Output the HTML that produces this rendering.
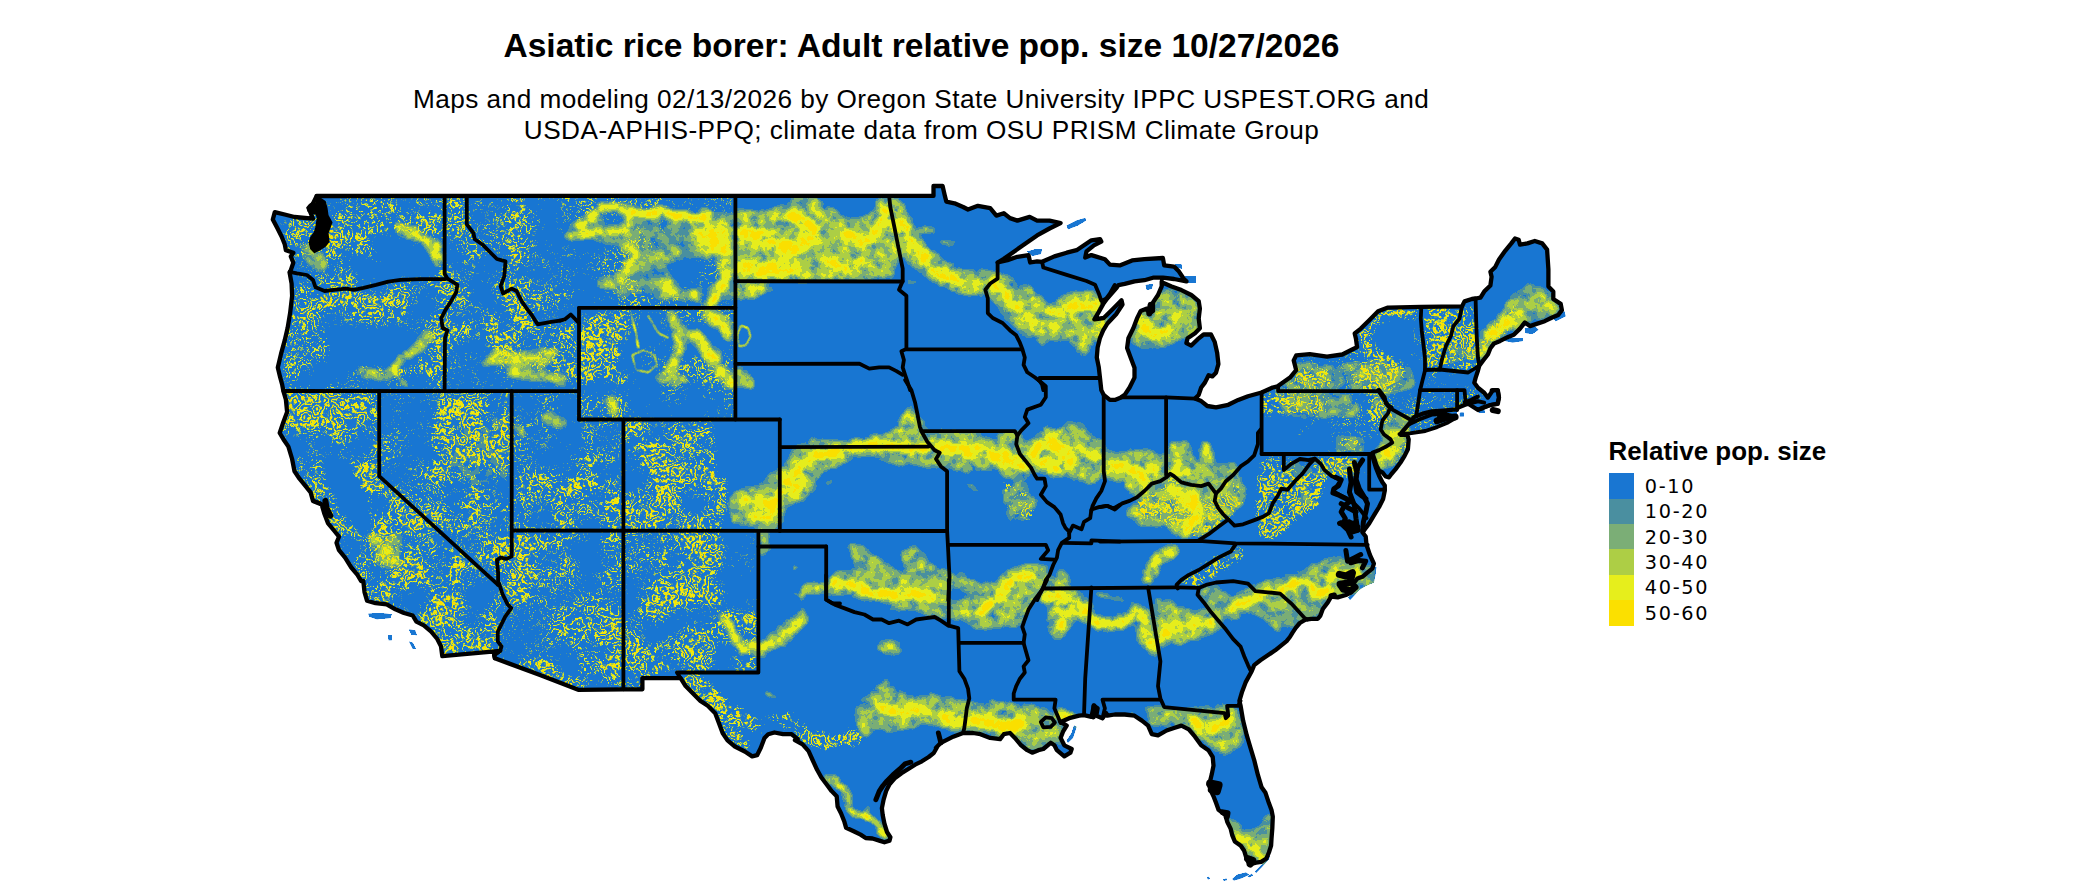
<!DOCTYPE html>
<html lang="en"><head><meta charset="utf-8"><title>Asiatic rice borer: Adult relative pop. size 10/27/2026</title>
<style>html,body{margin:0;padding:0;background:#fff;}body{width:2100px;height:892px;position:relative;overflow:hidden;}</style>
</head><body>
<svg width="2100" height="892" viewBox="0 0 2100 892" style="position:absolute;left:0;top:0">
<defs><clipPath id="land"><path d="M316.7,196.0 L933.5,195.9 L933.5,186.0 L942.6,186.0 L944.6,194.7 L946.3,201.6 L954.5,203.3 L963.1,207.0 L968.0,209.5 L977.9,205.8 L990.2,208.2 L996.4,215.6 L1003.8,213.2 L1010.0,218.1 L1017.4,220.6 L1029.7,216.9 L1037.1,220.6 L1049.5,220.6 L1060.6,223.0 L1049.5,228.5 L1037.1,235.4 L1024.8,244.0 L1012.5,252.7 L1003.8,258.8 L997.6,262.5 L1007.5,260.1 L1017.4,256.8 L1028.5,255.1 L1030.2,262.5 L1037.1,261.3 L1042.1,261.8 L1054.4,256.4 L1066.7,252.7 L1076.6,250.2 L1084.0,245.3 L1091.4,240.3 L1100.0,239.1 L1101.3,241.6 L1093.9,245.3 L1086.5,251.4 L1085.2,257.6 L1091.4,255.1 L1104.9,259.2 L1109.9,264.6 L1119.7,265.4 L1132.1,260.4 L1144.4,259.2 L1162.9,258.0 L1164.2,265.4 L1174.0,266.6 L1179.0,271.6 L1183.9,279.0 L1186.4,281.4 L1174.0,279.0 L1162.9,277.7 L1153.0,277.7 L1144.4,280.2 L1134.5,281.4 L1124.7,283.9 L1118.5,285.1 L1116.1,288.4 L1107.4,298.3 L1103.7,303.2 L1098.8,311.9 L1094.4,319.3 L1103.7,318.0 L1113.1,308.7 L1121.5,300.3 L1122.5,304.5 L1116.1,314.3 L1107.4,323.5 L1103.2,330.4 L1100.0,337.8 L1097.6,347.6 L1096.8,357.5 L1098.8,367.4 L1100.0,378.0 L1101.3,390.1 L1103.7,394.9 L1109.9,399.9 L1114.8,399.9 L1121.0,397.4 L1124.7,394.9 L1129.6,387.5 L1134.5,377.6 L1134.5,367.8 L1130.8,357.9 L1127.1,348.0 L1128.4,338.2 L1133.3,328.3 L1137.0,318.4 L1140.7,311.0 L1146.9,308.6 L1149.3,313.5 L1153.0,311.0 L1153.0,302.4 L1158.0,295.0 L1161.7,286.4 L1161.7,281.4 L1162.9,282.7 L1171.6,286.4 L1181.4,290.1 L1191.3,295.0 L1198.7,301.2 L1199.9,308.6 L1198.7,318.4 L1199.9,328.3 L1195.0,333.2 L1187.6,338.2 L1186.4,343.1 L1191.3,345.6 L1197.5,339.4 L1203.6,334.5 L1211.0,334.5 L1214.7,341.9 L1217.2,353.0 L1218.4,364.1 L1216.0,372.7 L1212.3,376.4 L1208.6,375.2 L1204.9,382.6 L1201.2,387.5 L1198.7,394.9 L1195.0,398.6 L1201.2,401.1 L1207.3,406.0 L1216.0,407.3 L1228.3,404.8 L1238.2,399.9 L1248.0,396.2 L1261.6,392.5 L1272.7,387.5 L1277.6,386.3 L1290.0,377.6 L1296.2,370.2 L1293.7,360.4 L1296.2,355.4 L1309.7,354.2 L1327.0,356.7 L1342.3,354.5 L1352.2,349.5 L1357.1,347.1 L1355.9,338.4 L1354.7,333.5 L1360.8,328.6 L1369.5,319.9 L1378.1,311.3 L1388.0,307.6 L1421.3,306.8 L1462.0,306.4 L1464.5,301.4 L1471.9,299.0 L1475.6,298.5 L1480.5,297.7 L1484.2,291.6 L1490.4,285.4 L1491.6,276.7 L1490.4,271.8 L1495.3,266.9 L1499.0,259.5 L1505.2,250.8 L1511.3,243.4 L1515.0,238.5 L1518.7,239.7 L1520.0,244.7 L1527.4,243.4 L1534.8,241.0 L1542.2,243.4 L1547.1,249.6 L1548.4,269.3 L1548.4,286.6 L1553.3,291.6 L1553.3,299.0 L1560.7,303.9 L1561.9,310.1 L1558.2,315.0 L1552.1,317.5 L1544.7,321.2 L1537.3,323.6 L1529.9,326.1 L1524.9,322.4 L1520.0,328.6 L1513.8,334.7 L1507.6,337.2 L1500.2,340.9 L1494.1,343.4 L1490.4,348.3 L1487.9,354.5 L1483.0,360.6 L1479.3,365.6 L1478.0,370.5 L1475.6,377.9 L1474.3,382.8 L1478.0,387.8 L1484.2,392.7 L1487.9,397.6 L1492.8,390.2 L1497.8,390.2 L1499.0,397.6 L1497.8,403.8 L1490.4,405.0 L1483.0,407.5 L1478.0,410.0 L1468.2,403.8 L1464.5,405.0 L1458.3,407.5 L1456.5,409.4 L1443.3,410.6 L1431.8,411.4 L1421.9,413.9 L1413.7,417.2 L1412.0,420.5 L1407.1,426.2 L1401.3,432.8 L1400.8,434.8 L1407.1,434.5 L1408.7,439.4 L1407.9,449.3 L1404.6,455.9 L1400.5,462.5 L1395.6,469.1 L1391.4,474.0 L1389.0,477.3 L1385.7,476.5 L1382.4,472.4 L1379.1,470.7 L1376.6,465.8 L1375.0,460.8 L1373.3,455.9 L1372.5,453.4 L1373.3,459.2 L1375.8,467.4 L1379.1,475.7 L1382.4,482.3 L1384.8,485.6 L1384.8,490.5 L1383.2,498.7 L1379.1,507.0 L1374.1,515.2 L1369.2,523.4 L1364.3,530.0 L1362.6,532.5 L1365.7,536.5 L1366.5,544.7 L1369.8,554.6 L1373.9,563.7 L1372.3,568.6 L1367.3,572.7 L1362.4,576.8 L1357.4,578.5 L1354.1,582.6 L1352.5,589.2 L1350.8,592.5 L1345.9,595.0 L1337.7,597.4 L1331.1,596.6 L1327.8,602.4 L1322.8,609.0 L1320.4,615.6 L1317.9,618.8 L1311.3,618.8 L1305.5,619.7 L1299.8,623.0 L1295.7,627.9 L1292.4,632.9 L1289.9,637.0 L1286.6,641.1 L1275.2,650.3 L1267.8,655.3 L1260.4,660.2 L1254.2,665.1 L1251.7,671.3 L1245.6,682.4 L1241.9,692.3 L1239.4,700.9 L1240.6,705.8 L1243.1,720.6 L1246.8,735.4 L1250.5,747.8 L1254.2,760.1 L1257.9,774.9 L1261.6,787.3 L1265.5,792.8 L1268.9,803.1 L1271.5,809.9 L1272.8,816.7 L1272.3,828.6 L1271.5,838.9 L1271.1,845.7 L1268.9,852.5 L1266.4,858.5 L1261.2,861.9 L1256.1,862.7 L1249.3,864.4 L1246.8,859.3 L1244.2,850.8 L1240.8,845.7 L1234.8,841.4 L1232.3,835.4 L1230.6,828.6 L1227.2,821.8 L1225.4,815.0 L1218.6,809.9 L1216.1,803.1 L1213.5,796.2 L1211.0,791.1 L1209.3,786.0 L1210.1,780.9 L1211.8,774.1 L1213.5,765.6 L1212.7,757.0 L1208.4,750.2 L1201.2,745.3 L1195.0,736.7 L1188.8,729.3 L1181.4,725.6 L1174.0,728.0 L1166.6,730.5 L1158.0,735.4 L1151.8,734.2 L1148.1,725.6 L1141.9,720.6 L1134.5,715.7 L1124.7,714.5 L1114.8,714.5 L1107.4,715.7 L1106.2,713.2 L1102.5,718.2 L1096.3,715.7 L1097.6,708.3 L1093.9,705.8 L1091.4,716.9 L1084.0,715.2 L1079.1,715.7 L1069.2,718.2 L1060.6,721.9 L1066.7,725.6 L1063.0,731.7 L1060.6,737.9 L1064.3,745.3 L1071.7,749.0 L1070.4,752.7 L1064.3,756.4 L1056.9,750.2 L1054.4,745.3 L1050.7,742.8 L1043.3,749.0 L1038.4,750.2 L1032.2,752.7 L1027.3,750.2 L1021.1,745.3 L1014.9,737.9 L1010.0,733.0 L1003.8,734.2 L1000.1,739.1 L990.2,737.9 L980.4,734.2 L973.0,733.0 L963.1,733.0 L953.2,736.7 L945.8,740.4 L940.9,742.8 L936.0,747.8 L937.3,746.8 L933.9,752.8 L928.7,757.0 L921.9,761.3 L915.1,764.7 L908.3,769.0 L901.5,773.2 L894.7,778.4 L889.5,784.3 L886.1,791.1 L883.6,799.7 L881.9,808.2 L882.7,815.0 L884.4,823.5 L887.0,832.0 L890.4,837.2 L889.5,840.6 L884.4,842.3 L879.3,840.6 L872.5,838.5 L865.7,838.0 L860.6,834.6 L853.7,831.2 L846.1,827.8 L844.4,821.8 L841.0,813.3 L837.6,806.5 L836.7,796.2 L831.6,791.1 L826.5,784.3 L821.4,777.5 L817.1,769.8 L812.8,760.5 L808.6,751.1 L802.6,744.3 L794.9,740.0 L797.8,739.1 L791.7,734.2 L783.0,734.2 L774.4,732.5 L768.2,734.2 L764.5,737.9 L760.8,747.8 L757.1,755.2 L752.2,756.4 L744.8,751.5 L734.9,746.5 L727.5,740.4 L722.6,733.0 L718.9,723.1 L715.2,713.2 L707.8,705.8 L700.4,700.9 L693.0,693.5 L685.6,686.1 L680.6,678.2 L642.4,678.2 L642.4,689.3 L623.4,689.3 L578.2,689.8 L540.0,675.0 L494.8,658.2 L494.1,655.0 L500.2,650.8 L442.3,656.2 L441.0,646.4 L437.3,639.0 L431.2,631.6 L423.8,625.4 L416.4,621.7 L412.7,615.5 L404.0,613.0 L395.4,609.3 L386.7,604.4 L375.6,603.2 L367.0,600.7 L364.5,592.1 L363.3,581.0 L361.2,581.1 L357.5,574.9 L351.3,567.5 L345.1,557.6 L339.0,550.2 L336.5,542.8 L339.0,536.7 L334.0,530.5 L327.9,523.1 L324.2,513.2 L321.7,504.6 L313.0,500.9 L310.6,492.3 L305.6,486.1 L299.5,478.7 L294.5,471.3 L292.1,459.0 L288.4,446.6 L283.4,439.2 L279.7,433.0 L283.4,421.9 L287.1,412.1 L285.9,399.7 L283.4,391.1 L282.2,384.8 L280.2,377.4 L277.8,367.5 L281.0,353.9 L284.7,340.4 L287.6,328.0 L290.1,313.2 L292.1,296.0 L291.6,283.6 L289.6,272.5 L290.8,270.1 L293.3,262.7 L290.8,256.5 L293.3,252.8 L285.9,250.3 L284.7,244.2 L281.7,236.7 L277.3,228.1 L272.8,219.5 L274.8,212.1 L284.7,214.5 L294.5,217.0 L313.0,218.7 L309.3,209.6 L313.0,203.4Z"/><path d="M1412.8,416.9 L1430.8,411.0 L1457.5,409.0 L1456.3,417.7 L1448.1,422.8 L1437.1,427.1 L1425.3,431.0 L1409.6,433.8 L1399.4,434.2 L1405.7,424.0Z"/>
<path d="M1066.7,225.5 L1076.6,220.6 L1085.2,218.1 L1086.0,220.6 L1077.8,225.5 L1068.0,229.2Z"/>
<path d="M1027.3,251.4 L1034.7,249.4 L1042.1,249.0 L1040.8,253.9 L1032.2,255.9Z"/>
<path d="M368.2,613.8 L379.3,613.0 L391.7,614.3 L390.4,618.0 L376.9,619.2 L369.5,616.7Z"/>
<path d="M388.0,635.3 L391.7,635.3 L391.7,640.2 L388.7,640.2Z"/>
<path d="M409.0,629.6 L415.1,630.3 L416.8,635.3 L411.4,634.5Z"/>
<path d="M409.0,641.4 L412.7,642.7 L415.9,648.8 L412.7,648.8Z"/>
<path d="M1266.4,859.3 L1269.8,855.9 L1268.9,859.3 L1261.2,867.8 L1256.1,872.9 L1255.3,871.2 L1261.2,865.3Z"/>
<path d="M1232.3,878.9 L1237.4,874.7 L1245.9,872.6 L1249.3,874.7 L1240.8,878.4 L1234.0,880.6Z"/>
<path d="M1247.6,876.4 L1251.9,873.8 L1252.7,875.5 L1249.3,877.2Z"/>
<path d="M1223.4,879.4 L1226.3,878.4 L1227.2,880.1 L1223.7,880.8Z"/>
<path d="M1207.0,877.7 L1208.7,876.7 L1209.8,878.4 L1208.1,879.4Z"/>
<path d="M1372.3,567.8 L1376.4,567.0 L1375.2,576.0 L1373.9,582.6 L1365.7,585.9 L1359.1,590.0 L1352.5,597.4 L1350.0,599.9 L1348.4,597.4 L1352.5,592.5 L1355.0,582.6 L1362.4,577.7 L1369.0,572.7Z"/>
<path d="M1363.2,520.0 L1369.8,520.0 L1370.6,523.3 L1364.8,528.2Z"/>
<path d="M1175.3,264.2 L1181.4,264.2 L1181.9,268.6 L1176.5,268.1Z"/>
<path d="M1185.1,276.0 L1195.7,276.0 L1195.7,282.9 L1186.4,282.4Z"/>
<path d="M1145.6,285.1 L1153.0,283.9 L1151.8,288.8 L1146.9,290.1Z"/>
<path d="M1074.1,725.6 L1076.6,726.8 L1072.9,737.9 L1068.0,742.8 L1066.7,740.4 L1071.7,733.0Z"/>
<path d="M1524.9,328.6 L1534.8,326.6 L1538.5,329.8 L1532.3,334.0 L1525.4,333.0Z"/>
<path d="M1502.7,340.4 L1512.6,337.9 L1522.5,337.9 L1522.9,340.9 L1512.6,342.4Z"/>
<path d="M1552.1,316.7 L1564.4,311.3 L1565.6,316.2 L1555.8,321.2Z"/>
<path d="M1460.3,412.5 L1463.7,412.5 L1463.7,416.4 L1460.3,416.4Z"/>
<path d="M1478.0,410.0 L1484.2,409.5 L1484.9,412.5 L1479.0,412.9Z"/>
<path d="M1459.8,413.1 L1463.9,413.1 L1463.9,416.4 L1459.8,416.4Z"/>
</clipPath></defs>
<g fill="#1976D2" stroke="none" shape-rendering="crispEdges">
<path d="M316.7,196.0 L933.5,195.9 L933.5,186.0 L942.6,186.0 L944.6,194.7 L946.3,201.6 L954.5,203.3 L963.1,207.0 L968.0,209.5 L977.9,205.8 L990.2,208.2 L996.4,215.6 L1003.8,213.2 L1010.0,218.1 L1017.4,220.6 L1029.7,216.9 L1037.1,220.6 L1049.5,220.6 L1060.6,223.0 L1049.5,228.5 L1037.1,235.4 L1024.8,244.0 L1012.5,252.7 L1003.8,258.8 L997.6,262.5 L1007.5,260.1 L1017.4,256.8 L1028.5,255.1 L1030.2,262.5 L1037.1,261.3 L1042.1,261.8 L1054.4,256.4 L1066.7,252.7 L1076.6,250.2 L1084.0,245.3 L1091.4,240.3 L1100.0,239.1 L1101.3,241.6 L1093.9,245.3 L1086.5,251.4 L1085.2,257.6 L1091.4,255.1 L1104.9,259.2 L1109.9,264.6 L1119.7,265.4 L1132.1,260.4 L1144.4,259.2 L1162.9,258.0 L1164.2,265.4 L1174.0,266.6 L1179.0,271.6 L1183.9,279.0 L1186.4,281.4 L1174.0,279.0 L1162.9,277.7 L1153.0,277.7 L1144.4,280.2 L1134.5,281.4 L1124.7,283.9 L1118.5,285.1 L1116.1,288.4 L1107.4,298.3 L1103.7,303.2 L1098.8,311.9 L1094.4,319.3 L1103.7,318.0 L1113.1,308.7 L1121.5,300.3 L1122.5,304.5 L1116.1,314.3 L1107.4,323.5 L1103.2,330.4 L1100.0,337.8 L1097.6,347.6 L1096.8,357.5 L1098.8,367.4 L1100.0,378.0 L1101.3,390.1 L1103.7,394.9 L1109.9,399.9 L1114.8,399.9 L1121.0,397.4 L1124.7,394.9 L1129.6,387.5 L1134.5,377.6 L1134.5,367.8 L1130.8,357.9 L1127.1,348.0 L1128.4,338.2 L1133.3,328.3 L1137.0,318.4 L1140.7,311.0 L1146.9,308.6 L1149.3,313.5 L1153.0,311.0 L1153.0,302.4 L1158.0,295.0 L1161.7,286.4 L1161.7,281.4 L1162.9,282.7 L1171.6,286.4 L1181.4,290.1 L1191.3,295.0 L1198.7,301.2 L1199.9,308.6 L1198.7,318.4 L1199.9,328.3 L1195.0,333.2 L1187.6,338.2 L1186.4,343.1 L1191.3,345.6 L1197.5,339.4 L1203.6,334.5 L1211.0,334.5 L1214.7,341.9 L1217.2,353.0 L1218.4,364.1 L1216.0,372.7 L1212.3,376.4 L1208.6,375.2 L1204.9,382.6 L1201.2,387.5 L1198.7,394.9 L1195.0,398.6 L1201.2,401.1 L1207.3,406.0 L1216.0,407.3 L1228.3,404.8 L1238.2,399.9 L1248.0,396.2 L1261.6,392.5 L1272.7,387.5 L1277.6,386.3 L1290.0,377.6 L1296.2,370.2 L1293.7,360.4 L1296.2,355.4 L1309.7,354.2 L1327.0,356.7 L1342.3,354.5 L1352.2,349.5 L1357.1,347.1 L1355.9,338.4 L1354.7,333.5 L1360.8,328.6 L1369.5,319.9 L1378.1,311.3 L1388.0,307.6 L1421.3,306.8 L1462.0,306.4 L1464.5,301.4 L1471.9,299.0 L1475.6,298.5 L1480.5,297.7 L1484.2,291.6 L1490.4,285.4 L1491.6,276.7 L1490.4,271.8 L1495.3,266.9 L1499.0,259.5 L1505.2,250.8 L1511.3,243.4 L1515.0,238.5 L1518.7,239.7 L1520.0,244.7 L1527.4,243.4 L1534.8,241.0 L1542.2,243.4 L1547.1,249.6 L1548.4,269.3 L1548.4,286.6 L1553.3,291.6 L1553.3,299.0 L1560.7,303.9 L1561.9,310.1 L1558.2,315.0 L1552.1,317.5 L1544.7,321.2 L1537.3,323.6 L1529.9,326.1 L1524.9,322.4 L1520.0,328.6 L1513.8,334.7 L1507.6,337.2 L1500.2,340.9 L1494.1,343.4 L1490.4,348.3 L1487.9,354.5 L1483.0,360.6 L1479.3,365.6 L1478.0,370.5 L1475.6,377.9 L1474.3,382.8 L1478.0,387.8 L1484.2,392.7 L1487.9,397.6 L1492.8,390.2 L1497.8,390.2 L1499.0,397.6 L1497.8,403.8 L1490.4,405.0 L1483.0,407.5 L1478.0,410.0 L1468.2,403.8 L1464.5,405.0 L1458.3,407.5 L1456.5,409.4 L1443.3,410.6 L1431.8,411.4 L1421.9,413.9 L1413.7,417.2 L1412.0,420.5 L1407.1,426.2 L1401.3,432.8 L1400.8,434.8 L1407.1,434.5 L1408.7,439.4 L1407.9,449.3 L1404.6,455.9 L1400.5,462.5 L1395.6,469.1 L1391.4,474.0 L1389.0,477.3 L1385.7,476.5 L1382.4,472.4 L1379.1,470.7 L1376.6,465.8 L1375.0,460.8 L1373.3,455.9 L1372.5,453.4 L1373.3,459.2 L1375.8,467.4 L1379.1,475.7 L1382.4,482.3 L1384.8,485.6 L1384.8,490.5 L1383.2,498.7 L1379.1,507.0 L1374.1,515.2 L1369.2,523.4 L1364.3,530.0 L1362.6,532.5 L1365.7,536.5 L1366.5,544.7 L1369.8,554.6 L1373.9,563.7 L1372.3,568.6 L1367.3,572.7 L1362.4,576.8 L1357.4,578.5 L1354.1,582.6 L1352.5,589.2 L1350.8,592.5 L1345.9,595.0 L1337.7,597.4 L1331.1,596.6 L1327.8,602.4 L1322.8,609.0 L1320.4,615.6 L1317.9,618.8 L1311.3,618.8 L1305.5,619.7 L1299.8,623.0 L1295.7,627.9 L1292.4,632.9 L1289.9,637.0 L1286.6,641.1 L1275.2,650.3 L1267.8,655.3 L1260.4,660.2 L1254.2,665.1 L1251.7,671.3 L1245.6,682.4 L1241.9,692.3 L1239.4,700.9 L1240.6,705.8 L1243.1,720.6 L1246.8,735.4 L1250.5,747.8 L1254.2,760.1 L1257.9,774.9 L1261.6,787.3 L1265.5,792.8 L1268.9,803.1 L1271.5,809.9 L1272.8,816.7 L1272.3,828.6 L1271.5,838.9 L1271.1,845.7 L1268.9,852.5 L1266.4,858.5 L1261.2,861.9 L1256.1,862.7 L1249.3,864.4 L1246.8,859.3 L1244.2,850.8 L1240.8,845.7 L1234.8,841.4 L1232.3,835.4 L1230.6,828.6 L1227.2,821.8 L1225.4,815.0 L1218.6,809.9 L1216.1,803.1 L1213.5,796.2 L1211.0,791.1 L1209.3,786.0 L1210.1,780.9 L1211.8,774.1 L1213.5,765.6 L1212.7,757.0 L1208.4,750.2 L1201.2,745.3 L1195.0,736.7 L1188.8,729.3 L1181.4,725.6 L1174.0,728.0 L1166.6,730.5 L1158.0,735.4 L1151.8,734.2 L1148.1,725.6 L1141.9,720.6 L1134.5,715.7 L1124.7,714.5 L1114.8,714.5 L1107.4,715.7 L1106.2,713.2 L1102.5,718.2 L1096.3,715.7 L1097.6,708.3 L1093.9,705.8 L1091.4,716.9 L1084.0,715.2 L1079.1,715.7 L1069.2,718.2 L1060.6,721.9 L1066.7,725.6 L1063.0,731.7 L1060.6,737.9 L1064.3,745.3 L1071.7,749.0 L1070.4,752.7 L1064.3,756.4 L1056.9,750.2 L1054.4,745.3 L1050.7,742.8 L1043.3,749.0 L1038.4,750.2 L1032.2,752.7 L1027.3,750.2 L1021.1,745.3 L1014.9,737.9 L1010.0,733.0 L1003.8,734.2 L1000.1,739.1 L990.2,737.9 L980.4,734.2 L973.0,733.0 L963.1,733.0 L953.2,736.7 L945.8,740.4 L940.9,742.8 L936.0,747.8 L937.3,746.8 L933.9,752.8 L928.7,757.0 L921.9,761.3 L915.1,764.7 L908.3,769.0 L901.5,773.2 L894.7,778.4 L889.5,784.3 L886.1,791.1 L883.6,799.7 L881.9,808.2 L882.7,815.0 L884.4,823.5 L887.0,832.0 L890.4,837.2 L889.5,840.6 L884.4,842.3 L879.3,840.6 L872.5,838.5 L865.7,838.0 L860.6,834.6 L853.7,831.2 L846.1,827.8 L844.4,821.8 L841.0,813.3 L837.6,806.5 L836.7,796.2 L831.6,791.1 L826.5,784.3 L821.4,777.5 L817.1,769.8 L812.8,760.5 L808.6,751.1 L802.6,744.3 L794.9,740.0 L797.8,739.1 L791.7,734.2 L783.0,734.2 L774.4,732.5 L768.2,734.2 L764.5,737.9 L760.8,747.8 L757.1,755.2 L752.2,756.4 L744.8,751.5 L734.9,746.5 L727.5,740.4 L722.6,733.0 L718.9,723.1 L715.2,713.2 L707.8,705.8 L700.4,700.9 L693.0,693.5 L685.6,686.1 L680.6,678.2 L642.4,678.2 L642.4,689.3 L623.4,689.3 L578.2,689.8 L540.0,675.0 L494.8,658.2 L494.1,655.0 L500.2,650.8 L442.3,656.2 L441.0,646.4 L437.3,639.0 L431.2,631.6 L423.8,625.4 L416.4,621.7 L412.7,615.5 L404.0,613.0 L395.4,609.3 L386.7,604.4 L375.6,603.2 L367.0,600.7 L364.5,592.1 L363.3,581.0 L361.2,581.1 L357.5,574.9 L351.3,567.5 L345.1,557.6 L339.0,550.2 L336.5,542.8 L339.0,536.7 L334.0,530.5 L327.9,523.1 L324.2,513.2 L321.7,504.6 L313.0,500.9 L310.6,492.3 L305.6,486.1 L299.5,478.7 L294.5,471.3 L292.1,459.0 L288.4,446.6 L283.4,439.2 L279.7,433.0 L283.4,421.9 L287.1,412.1 L285.9,399.7 L283.4,391.1 L282.2,384.8 L280.2,377.4 L277.8,367.5 L281.0,353.9 L284.7,340.4 L287.6,328.0 L290.1,313.2 L292.1,296.0 L291.6,283.6 L289.6,272.5 L290.8,270.1 L293.3,262.7 L290.8,256.5 L293.3,252.8 L285.9,250.3 L284.7,244.2 L281.7,236.7 L277.3,228.1 L272.8,219.5 L274.8,212.1 L284.7,214.5 L294.5,217.0 L313.0,218.7 L309.3,209.6 L313.0,203.4Z"/>
<path d="M1412.8,416.9 L1430.8,411.0 L1457.5,409.0 L1456.3,417.7 L1448.1,422.8 L1437.1,427.1 L1425.3,431.0 L1409.6,433.8 L1399.4,434.2 L1405.7,424.0Z"/>
<path d="M1066.7,225.5 L1076.6,220.6 L1085.2,218.1 L1086.0,220.6 L1077.8,225.5 L1068.0,229.2Z"/>
<path d="M1027.3,251.4 L1034.7,249.4 L1042.1,249.0 L1040.8,253.9 L1032.2,255.9Z"/>
<path d="M368.2,613.8 L379.3,613.0 L391.7,614.3 L390.4,618.0 L376.9,619.2 L369.5,616.7Z"/>
<path d="M388.0,635.3 L391.7,635.3 L391.7,640.2 L388.7,640.2Z"/>
<path d="M409.0,629.6 L415.1,630.3 L416.8,635.3 L411.4,634.5Z"/>
<path d="M409.0,641.4 L412.7,642.7 L415.9,648.8 L412.7,648.8Z"/>
<path d="M1266.4,859.3 L1269.8,855.9 L1268.9,859.3 L1261.2,867.8 L1256.1,872.9 L1255.3,871.2 L1261.2,865.3Z"/>
<path d="M1232.3,878.9 L1237.4,874.7 L1245.9,872.6 L1249.3,874.7 L1240.8,878.4 L1234.0,880.6Z"/>
<path d="M1247.6,876.4 L1251.9,873.8 L1252.7,875.5 L1249.3,877.2Z"/>
<path d="M1223.4,879.4 L1226.3,878.4 L1227.2,880.1 L1223.7,880.8Z"/>
<path d="M1207.0,877.7 L1208.7,876.7 L1209.8,878.4 L1208.1,879.4Z"/>
<path d="M1372.3,567.8 L1376.4,567.0 L1375.2,576.0 L1373.9,582.6 L1365.7,585.9 L1359.1,590.0 L1352.5,597.4 L1350.0,599.9 L1348.4,597.4 L1352.5,592.5 L1355.0,582.6 L1362.4,577.7 L1369.0,572.7Z"/>
<path d="M1363.2,520.0 L1369.8,520.0 L1370.6,523.3 L1364.8,528.2Z"/>
<path d="M1175.3,264.2 L1181.4,264.2 L1181.9,268.6 L1176.5,268.1Z"/>
<path d="M1185.1,276.0 L1195.7,276.0 L1195.7,282.9 L1186.4,282.4Z"/>
<path d="M1145.6,285.1 L1153.0,283.9 L1151.8,288.8 L1146.9,290.1Z"/>
<path d="M1074.1,725.6 L1076.6,726.8 L1072.9,737.9 L1068.0,742.8 L1066.7,740.4 L1071.7,733.0Z"/>
<path d="M1524.9,328.6 L1534.8,326.6 L1538.5,329.8 L1532.3,334.0 L1525.4,333.0Z"/>
<path d="M1502.7,340.4 L1512.6,337.9 L1522.5,337.9 L1522.9,340.9 L1512.6,342.4Z"/>
<path d="M1552.1,316.7 L1564.4,311.3 L1565.6,316.2 L1555.8,321.2Z"/>
<path d="M1460.3,412.5 L1463.7,412.5 L1463.7,416.4 L1460.3,416.4Z"/>
<path d="M1478.0,410.0 L1484.2,409.5 L1484.9,412.5 L1479.0,412.9Z"/>
<path d="M1459.8,413.1 L1463.9,413.1 L1463.9,416.4 L1459.8,416.4Z"/>
</g>
<defs><filter id="pal" x="0" y="0" width="2100" height="892" filterUnits="userSpaceOnUse" color-interpolation-filters="sRGB">
<feTurbulence type="fractalNoise" baseFrequency="0.035" numOctaves="4" seed="41" result="TD"/>
<feDisplacementMap in="SourceGraphic" in2="TD" scale="10" xChannelSelector="R" yChannelSelector="G" result="SD"/>
<feGaussianBlur in="SourceGraphic" stdDeviation="2.0" result="S"/>
<feTurbulence type="fractalNoise" baseFrequency="0.1" numOctaves="5" seed="7" result="T1"/>
<feColorMatrix in="T1" type="matrix" values="1 0 0 0 0  1 0 0 0 0  1 0 0 0 0  0 0 0 0 1" result="N1"/>
<feGaussianBlur in="SD" stdDeviation="2.6" result="S2"/>
<feColorMatrix in="S2" type="matrix" values="1 0 0 0 0  1 0 0 0 0  1 0 0 0 0  0 0 0 0 1" result="SR"/>
<feComposite in="SR" in2="N1" operator="arithmetic" k1="1.5" k2="0.25" k3="0" k4="0" result="V"/>
<feTurbulence type="fractalNoise" baseFrequency="0.058" numOctaves="5" seed="23" result="T2"/>
<feColorMatrix in="T2" type="matrix" values="1 0 0 0 0  1 0 0 0 0  1 0 0 0 0  0 0 0 0 1" result="N2"/>
<feComponentTransfer in="N2" result="A">
<feFuncR type="table" tableValues="0 1 0 1 0 1 0 1 0 1 0 1 0"/><feFuncG type="table" tableValues="0 1 0 1 0 1 0 1 0 1 0 1 0"/><feFuncB type="table" tableValues="0 1 0 1 0 1 0 1 0 1 0 1 0"/>
</feComponentTransfer>
<feTurbulence type="fractalNoise" baseFrequency="0.028" numOctaves="3" seed="5" result="T3"/>
<feColorMatrix in="T3" type="matrix" values="1 0 0 0 0  1 0 0 0 0  1 0 0 0 0  0 0 0 0 1" result="N3"/>
<feColorMatrix in="S" type="matrix" values="0 1 0 0 0  0 1 0 0 0  0 1 0 0 0  0 0 0 0 1" result="SG"/>
<feComposite in="SG" in2="N3" operator="arithmetic" k1="2.9" k2="-0.52" k3="0" k4="0" result="SGm"/>
<feComposite in="SGm" in2="A" operator="arithmetic" k1="0" k2="1" k3="1.6" k4="-1.6" result="F"/>
<feComponentTransfer in="SGm" result="SGh"><feFuncR type="linear" slope="0.5"/><feFuncG type="linear" slope="0.5"/><feFuncB type="linear" slope="0.5"/></feComponentTransfer>
<feComposite in="SGh" in2="A" operator="arithmetic" k1="0" k2="1" k3="0.45" k4="-0.45" result="F2"/>
<feBlend in="F" in2="F2" mode="lighten" result="F3"/>
<feBlend in="V" in2="F3" mode="lighten" result="W0"/>
<feGaussianBlur in="SourceGraphic" stdDeviation="0.9" result="S4"/>
<feColorMatrix in="S4" type="matrix" values="0 0 1 0 0  0 0 1 0 0  0 0 1 0 0  0 0 0 0 1" result="SB"/>
<feComposite in="SB" in2="N1" operator="arithmetic" k1="1.2" k2="0.4" k3="0" k4="0" result="VB"/>
<feBlend in="W0" in2="VB" mode="lighten" result="W"/>
<feComponentTransfer in="W">
<feFuncR type="discrete" tableValues="0.098 0.098 0.098 0.098 0.098 0.098 0.098 0.098 0.098 0.098 0.098 0.098 0.098 0.098 0.098 0.098 0.098 0.098 0.098 0.098 0.290 0.290 0.290 0.290 0.290 0.290 0.290 0.290 0.290 0.482 0.482 0.482 0.482 0.482 0.482 0.482 0.482 0.482 0.482 0.678 0.678 0.678 0.678 0.678 0.678 0.678 0.678 0.678 0.678 0.678 0.902 0.902 0.902 0.902 0.902 0.902 0.902 0.902 0.902 0.902 0.902 0.902 0.902 0.902 0.902 0.902 0.902 0.902 0.902 0.902 0.902 0.902 0.902 0.984 0.984 0.984 0.984 0.984 0.984 0.984 0.984 0.984 0.984 0.984 0.984 0.984 0.984 0.984 0.984 0.984 0.984 0.984 0.984 0.984 0.984 0.984 0.984 0.984 0.984 0.984"/>
<feFuncG type="discrete" tableValues="0.463 0.463 0.463 0.463 0.463 0.463 0.463 0.463 0.463 0.463 0.463 0.463 0.463 0.463 0.463 0.463 0.463 0.463 0.463 0.463 0.561 0.561 0.561 0.561 0.561 0.561 0.561 0.561 0.561 0.682 0.682 0.682 0.682 0.682 0.682 0.682 0.682 0.682 0.682 0.808 0.808 0.808 0.808 0.808 0.808 0.808 0.808 0.808 0.808 0.808 0.933 0.933 0.933 0.933 0.933 0.933 0.933 0.933 0.933 0.933 0.933 0.933 0.933 0.933 0.933 0.933 0.933 0.933 0.933 0.933 0.933 0.933 0.933 0.878 0.878 0.878 0.878 0.878 0.878 0.878 0.878 0.878 0.878 0.878 0.878 0.878 0.878 0.878 0.878 0.878 0.878 0.878 0.878 0.878 0.878 0.878 0.878 0.878 0.878 0.878"/>
<feFuncB type="discrete" tableValues="0.824 0.824 0.824 0.824 0.824 0.824 0.824 0.824 0.824 0.824 0.824 0.824 0.824 0.824 0.824 0.824 0.824 0.824 0.824 0.824 0.627 0.627 0.627 0.627 0.627 0.627 0.627 0.627 0.627 0.463 0.463 0.463 0.463 0.463 0.463 0.463 0.463 0.463 0.463 0.271 0.271 0.271 0.271 0.271 0.271 0.271 0.271 0.271 0.271 0.271 0.110 0.110 0.110 0.110 0.110 0.110 0.110 0.110 0.110 0.110 0.110 0.110 0.110 0.110 0.110 0.110 0.110 0.110 0.110 0.110 0.110 0.110 0.110 0.000 0.000 0.000 0.000 0.000 0.000 0.000 0.000 0.000 0.000 0.000 0.000 0.000 0.000 0.000 0.000 0.000 0.000 0.000 0.000 0.000 0.000 0.000 0.000 0.000 0.000 0.000"/>
</feComponentTransfer>
</filter><style>.b{mix-blend-mode:lighten;stroke-linecap:round;stroke-linejoin:round}</style></defs>
<g clip-path="url(#land)"><g filter="url(#pal)"><rect x="0" y="0" width="2100" height="892" fill="#000"/>
<path d="M270.0,193.3 L446.5,193.3 L446.5,279.9 L403.2,278.3 L369.9,281.6 L326.6,291.6 L290.0,273.3 Z" fill="rgb(0,173,0)"/>
<path d="M369.9,235.0 L403.2,230.0 L433.2,246.6 L439.9,276.6 L403.2,277.3 L376.6,259.9 Z" fill="rgb(0,38,0)"/>
<path d="M280.0,273.3 L326.6,291.6 L369.9,281.6 L403.2,278.3 L456.5,279.9 L446.5,393.2 L280.0,393.2 Z" fill="rgb(0,153,0)"/>
<path d="M329.9,326.5 L369.9,329.9 L406.5,326.5 L416.5,353.2 L406.5,366.5 L359.9,366.5 L339.9,379.8 L326.6,366.5 Z" fill="rgb(0,38,0)"/>
<path d="M359.9,376.5 L433.2,376.5 L439.9,393.2 L359.9,393.2 Z" fill="rgb(0,76,0)"/>
<path d="M444.8,193.3 L466.5,193.3 L473.2,233.3 L506.5,263.3 L513.1,289.9 L536.4,323.2 L576.4,319.9 L576.4,393.2 L444.8,393.2 L441.5,319.9 L456.5,283.2 L444.8,276.6 Z" fill="rgb(0,178,0)"/>
<path d="M446.5,346.5 L493.1,366.5 L513.1,366.5 L576.4,379.8 L576.4,393.2 L446.5,393.2 Z" fill="rgb(0,89,0)"/>
<path d="M466.5,193.3 L660.0,193.3 L660.0,309.9 L579.7,309.9 L576.4,319.9 L536.4,323.2 L513.1,289.9 L506.5,263.3 L473.2,233.3 Z" fill="rgb(0,127,0)"/>
<path d="M466.5,193.3 L493.1,193.3 L499.8,220.0 L476.5,230.0 Z" fill="rgb(0,178,0)"/>
<path d="M546.4,236.6 L579.7,230.0 L623.0,256.6 L609.7,289.9 L559.8,289.9 L546.4,263.3 Z" fill="rgb(0,63,0)"/>
<path d="M579.7,308.2 L660.0,308.2 L660.0,419.8 L579.7,419.8 Z" fill="rgb(0,89,0)"/>
<path d="M581.4,309.9 L623.0,309.9 L626.4,339.9 L613.0,366.5 L589.7,386.5 L581.4,366.5 Z" fill="rgb(0,255,0)"/>
<path d="M593.1,379.8 L660.0,366.5 L660.0,418.1 L581.4,418.1 L581.4,386.5 Z" fill="rgb(0,51,0)"/>
<path d="M280.0,393.2 L378.2,393.2 L378.2,477.1 L293.3,477.1 Z" fill="rgb(0,204,0)"/>
<path d="M378.2,393.2 L511.5,393.2 L511.5,477.1 L378.2,477.1 Z" fill="rgb(0,140,0)"/>
<path d="M433.2,413.1 L511.5,399.8 L511.5,477.1 L416.5,477.1 Z" fill="rgb(0,216,0)"/>
<path d="M511.5,393.2 L626.4,393.2 L626.4,477.1 L511.5,477.1 Z" fill="rgb(0,127,0)"/>
<path d="M516.5,396.5 L579.7,396.5 L579.7,433.1 L543.1,446.4 L516.5,433.1 Z" fill="rgb(0,51,0)"/>
<path d="M624.7,419.8 L660.0,419.8 L660.0,477.1 L624.7,477.1 Z" fill="rgb(0,204,0)"/>
<path d="M660.0,193.3 L735.9,193.3 L735.9,308.2 L660.0,308.2 Z" fill="rgb(0,89,0)"/>
<path d="M660.0,308.2 L735.9,308.2 L735.9,418.1 L660.0,418.1 Z" fill="rgb(0,127,0)"/>
<path d="M660.0,418.1 L713.3,418.1 L716.6,477.1 L660.0,477.1 Z" fill="rgb(0,216,0)"/>
<path d="M713.3,418.1 L779.9,418.1 L779.9,477.1 L716.6,477.1 Z" fill="rgb(0,30,0)"/>
<path d="M1276.5,353.2 L1296.5,353.2 L1353.1,346.5 L1386.4,306.6 L1460.0,306.6 L1460.0,477.1 L1259.8,477.1 L1259.8,393.2 L1276.5,386.5 Z" fill="rgb(0,114,0)"/>
<path d="M1289.8,369.8 L1313.1,364.8 L1336.4,369.8 L1339.8,383.8 L1313.1,388.5 L1286.5,386.5 Z" fill="rgb(0,306,0)"/>
<path d="M1346.4,366.5 L1376.4,361.5 L1406.4,369.8 L1409.7,386.5 L1379.7,393.2 L1353.1,386.5 Z" fill="rgb(0,306,0)"/>
<path d="M1369.7,336.5 L1379.7,319.9 L1396.4,313.2 L1409.7,319.9 L1413.0,339.9 L1406.4,356.5 L1393.1,359.9 L1379.7,353.2 L1369.7,336.5" fill="none" stroke="rgb(0,331,0)" stroke-width="7.3" stroke-linecap="round" stroke-linejoin="round"/>
<path d="M1408.0,319.9 L1410.4,346.5 L1407.0,366.5" fill="none" stroke="rgb(0,306,0)" stroke-width="6.0" stroke-linecap="round" stroke-linejoin="round"/>
<path d="M1359.8,326.5 L1369.7,336.5 L1359.8,353.2" fill="none" stroke="rgb(0,280,0)" stroke-width="5.3" stroke-linecap="round" stroke-linejoin="round"/>
<path d="M1379.7,326.5 L1399.7,323.2 L1404.7,343.2 L1389.7,353.2 L1378.1,343.2 Z" fill="rgb(0,12,0)"/>
<path d="M1276.5,394.8 L1313.1,393.2 L1346.4,396.5 L1359.8,406.5 L1353.1,413.8 L1313.1,413.8 L1286.5,410.5 Z" fill="rgb(0,306,0)"/>
<path d="M1369.7,396.5 L1393.1,399.8 L1393.1,419.8 L1373.1,419.8 Z" fill="rgb(0,280,0)"/>
<path d="M1339.8,439.1 L1359.8,440.4 L1359.8,450.4 L1339.8,449.1 Z" fill="rgb(0,306,0)"/>
<path d="M1293.1,446.4 L1303.1,429.8 L1316.5,418.1" fill="none" stroke="rgb(0,306,0)" stroke-width="3.3" stroke-linecap="round" stroke-linejoin="round"/>
<path d="M1289.8,449.8 L1299.8,446.4" fill="none" stroke="rgb(0,306,0)" stroke-width="4.7" stroke-linecap="round" stroke-linejoin="round"/>
<path d="M1263.2,414.8 L1366.4,414.8 L1379.7,436.5 L1373.1,453.1 L1263.2,453.1 Z" fill="rgb(0,38,0)"/>
<path d="M1339.8,439.1 L1359.8,440.4 L1359.8,450.4 L1339.8,449.1 Z" fill="rgb(0,306,0)"/>
<path d="M1293.1,446.4 L1303.1,429.8 L1316.5,418.1" fill="none" stroke="rgb(0,331,0)" stroke-width="3.3" stroke-linecap="round" stroke-linejoin="round"/>
<path d="M1423.0,308.2 L1460.0,308.2 L1460.0,371.5 L1423.0,371.5 Z" fill="rgb(0,216,0)"/>
<path d="M1418.0,371.5 L1460.0,371.5 L1460.0,413.1 L1418.0,413.1 Z" fill="rgb(0,102,0)"/>
<path d="M1286.5,459.8 L1319.8,456.4 L1359.8,459.8 L1359.8,477.1 L1286.5,477.1 Z" fill="rgb(0,255,0)"/>
<path d="M1354.7,303.9 L1423.8,305.1 L1426.2,370.5 L1418.8,417.4 L1391.7,410.0 L1376.9,390.2 L1330.0,390.2 L1330.0,353.2 L1354.7,348.3 Z" fill="rgb(0,127,0)"/>
<path d="M1362.1,336.0 L1369.5,323.6 L1384.3,315.0 L1404.0,311.3 L1415.1,318.7 L1416.4,336.0 L1411.4,353.2 L1401.6,363.1 L1384.3,360.6 L1369.5,353.2 L1362.1,336.0" fill="none" stroke="rgb(0,331,0)" stroke-width="7.4" stroke-linecap="round" stroke-linejoin="round"/>
<path d="M1379.3,326.1 L1404.0,322.4 L1411.4,336.0 L1404.0,354.5 L1384.3,353.2 L1376.9,340.9 Z" fill="rgb(0,7,0)"/>
<path d="M1349.7,364.3 L1379.3,361.9 L1406.5,368.0 L1404.0,387.8 L1374.4,390.2 L1349.7,382.8 Z" fill="rgb(0,331,0)"/>
<path d="M1422.5,306.8 L1462.0,306.4 L1453.4,326.1 L1446.0,345.8 L1439.8,369.3 L1425.0,370.0 Z" fill="rgb(0,216,0)"/>
<path d="M1462.0,306.4 L1475.6,299.0 L1479.3,365.6 L1468.2,371.7 L1439.8,369.3 L1446.0,345.8 L1453.4,326.1 Z" fill="rgb(0,229,0)"/>
<path d="M1441.0,338.4 L1475.6,331.0 L1478.0,365.6 L1441.0,368.0 Z" fill="rgb(0,318,0)"/>
<path d="M1425.0,370.5 L1478.0,371.0 L1487.9,397.6 L1458.3,407.5 L1416.4,416.2 L1420.1,390.2 Z" fill="rgb(0,114,0)"/>
<path d="M1425.7,371.0 L1438.6,371.0 L1436.1,390.2 L1421.3,390.2 Z" fill="rgb(0,255,0)"/>
<path d="M1475.6,298.5 L1515.0,238.5 L1547.1,244.7 L1561.9,310.1 L1527.4,328.6 L1487.9,354.5 L1479.3,365.6 Z" fill="rgb(0,25,0)"/>
<path d="M1478.0,353.2 L1487.9,328.6 L1502.7,313.8 L1517.5,301.4 L1527.4,318.7 L1502.7,333.5 L1490.4,343.4 L1483.0,354.5 Z" fill="rgb(0,255,0)"/>
<path d="M1330.0,392.7 L1376.9,392.7 L1391.7,407.5 L1383.0,424.8 L1385.5,440.1 L1330.0,440.1 Z" fill="rgb(0,127,0)"/>
<path d="M1330.0,396.4 L1359.6,398.9 L1362.1,410.0 L1330.0,410.0 Z" fill="rgb(0,306,0)"/>
<path d="M1367.0,392.7 L1379.3,393.9 L1392.9,407.5 L1389.2,417.4 L1371.9,414.9 Z" fill="rgb(0,306,0)"/>
<path d="M279.7,391.1 L379.2,391.1 L379.2,476.2 L498.1,584.8 L504.3,600.1 L358.7,600.1 L334.0,533.0 L289.6,461.4 L277.3,431.8 Z" fill="rgb(0,204,0)"/>
<path d="M321.7,461.4 L334.0,454.0 L348.8,461.4 L363.6,491.0 L371.0,518.2 L376.0,537.9 L368.6,540.4 L353.8,528.0 L341.4,508.3 L329.1,486.1 Z" fill="rgb(0,20,0)"/>
<path d="M379.2,391.1 L511.7,391.1 L511.7,556.4 L498.1,584.8 L379.2,476.2 Z" fill="rgb(0,153,0)"/>
<path d="M379.2,392.3 L432.7,392.3 L430.2,473.8 L398.2,488.6 L379.2,475.0 Z" fill="rgb(0,107,0)"/>
<path d="M432.7,404.7 L510.4,404.7 L510.4,491.0 L462.3,496.0 L432.7,473.8 Z" fill="rgb(0,242,0)"/>
<path d="M512.9,391.1 L560.0,391.1 L560.0,529.3 L512.9,529.3 Z" fill="rgb(0,114,0)"/>
<path d="M366.1,533.0 L403.1,533.0 L403.1,570.0 L376.0,567.5 Z" fill="rgb(0,331,0)"/>
<path d="M359.9,560.3 L499.8,586.9 L509.8,606.9 L496.5,653.5 L441.5,656.9 L409.9,616.9 L369.9,600.2 Z" fill="rgb(0,216,0)"/>
<path d="M496.5,533.6 L624.7,532.0 L624.7,690.2 L576.4,690.2 L494.8,658.5 L508.1,606.9 L498.1,586.9 Z" fill="rgb(0,191,0)"/>
<path d="M499.8,603.6 L546.4,603.6 L553.1,663.5 L499.8,656.9 Z" fill="rgb(0,102,0)"/>
<path d="M553.1,636.9 L579.7,650.2 L576.4,676.8 L553.1,670.2 Z" fill="rgb(0,63,0)"/>
<path d="M544.8,633.5 L553.1,625.2 L563.1,630.2 L559.8,641.9 L548.1,643.5 L544.8,633.5" fill="none" stroke="rgb(0,357,0)" stroke-width="3.3" stroke-linecap="round" stroke-linejoin="round"/>
<path d="M513.1,477.0 L624.7,477.0 L624.7,532.0 L513.1,532.0 Z" fill="rgb(0,178,0)"/>
<path d="M624.7,477.0 L660.0,477.0 L660.0,690.2 L624.7,690.2 Z" fill="rgb(0,191,0)"/>
<path d="M624.7,533.6 L660.0,533.6 L660.0,576.9 L624.7,576.9 Z" fill="rgb(0,114,0)"/>
<path d="M660.0,477.0 L778.2,477.0 L778.2,530.3 L757.3,530.3 L757.3,671.8 L660.0,671.8 Z" fill="rgb(0,191,0)"/>
<path d="M726.6,477.0 L778.2,477.0 L778.2,530.3 L726.6,530.3 Z" fill="rgb(0,25,0)"/>
<path d="M723.3,533.6 L757.3,533.6 L757.3,610.2 L723.3,610.2 Z" fill="rgb(0,76,0)"/>
<path d="M1003.0,483.7 L1029.7,483.7 L1033.0,517.0 L1006.4,520.3 Z" fill="rgb(0,153,0)"/>
<path d="M680.0,673.5 L757.3,673.5 L819.9,716.8 L866.5,730.1 L859.8,750.1 L819.9,750.1 L776.6,733.5 L756.6,756.8 L720.0,743.4 Z" fill="rgb(0,38,0)"/>
<path d="M693.3,683.5 L726.6,710.1 L756.6,725.1 L786.6,720.1 L809.9,736.8 L833.2,743.4 L853.2,737.4" fill="none" stroke="rgb(0,280,0)" stroke-width="15.3" stroke-linecap="round" stroke-linejoin="round"/>
<path d="M690.0,676.8 L710.0,690.2 L720.0,716.8 L743.3,743.4" fill="none" stroke="rgb(0,255,0)" stroke-width="13.3" stroke-linecap="round" stroke-linejoin="round"/>
<path d="M1126.6,507.0 L1136.6,500.3 L1153.3,490.3 L1169.9,477.0 L1233.2,477.0 L1246.5,487.0 L1243.2,503.6 L1226.5,520.3 L1206.5,533.6 L1186.6,537.0 L1169.9,530.3 L1153.3,527.0 L1133.3,520.3 Z" fill="rgb(0,306,0)"/>
<path d="M1256.5,477.0 L1326.4,477.0 L1319.8,503.6 L1293.1,523.6 L1273.2,540.3 L1259.8,537.0 L1256.5,510.3 Z" fill="rgb(0,255,0)"/>
<path d="M1259.8,505.3 L1279.8,487.7 L1299.8,477.0" fill="none" stroke="rgb(0,382,0)" stroke-width="4.7" stroke-linecap="round" stroke-linejoin="round"/>
<path d="M1273.2,520.3 L1293.1,503.6 L1313.1,487.0" fill="none" stroke="rgb(0,382,0)" stroke-width="4.7" stroke-linecap="round" stroke-linejoin="round"/>
<path d="M1176.6,580.2 L1199.9,563.6 L1233.2,545.3 L1253.2,545.3 L1239.9,560.3 L1219.9,573.6 L1193.2,586.9 Z" fill="rgb(0,280,0)"/>
<path d="M1003.1,483.3 L1026.4,481.6 L1036.4,499.9 L1029.8,519.9 L1006.5,516.6 Z" fill="rgb(0,153,0)"/>
<path d="M544.7,241.7 L623.6,241.7 L623.6,268.9 L601.4,283.7 L544.7,283.7 Z" fill="rgb(0,102,0)"/>
<path d="M580.4,309.6 L626.1,309.6 L626.1,382.4 L580.4,382.4 Z" fill="rgb(0,267,0)"/>
<path class="b" d="M401.5,230.0 L416.5,235.0 L431.5,244.9 L439.9,258.3" fill="none" stroke="rgb(76,0,0)" stroke-width="17.7"/>
<path class="b" d="M401.5,230.0 L416.5,235.0 L431.5,244.9 L439.9,258.3" fill="none" stroke="rgb(133,0,0)" stroke-width="7.8"/>
<path class="b" d="M310.0,251.6 L318.3,264.9" fill="none" stroke="rgb(76,0,0)" stroke-width="18.3"/>
<path class="b" d="M310.0,251.6 L318.3,264.9" fill="none" stroke="rgb(109,0,0)" stroke-width="8.4"/>
<path class="b" d="M363.2,371.5 L376.6,374.8 L391.6,369.8 L404.9,359.9 L418.2,346.5 L428.2,336.5" fill="none" stroke="rgb(76,0,0)" stroke-width="14.3"/>
<path class="b" d="M363.2,371.5 L376.6,374.8 L391.6,369.8 L404.9,359.9 L418.2,346.5 L428.2,336.5" fill="none" stroke="rgb(145,0,0)" stroke-width="4.8"/>
<path class="b" d="M391.6,369.8 L399.9,379.8 L406.5,386.5" fill="none" stroke="rgb(121,0,0)" stroke-width="4.0"/>
<path class="b" d="M489.8,359.9 L513.1,358.2 L536.4,359.2 L553.1,353.2" fill="none" stroke="rgb(76,0,0)" stroke-width="17.7"/>
<path class="b" d="M489.8,359.9 L513.1,358.2 L536.4,359.2 L553.1,353.2" fill="none" stroke="rgb(133,0,0)" stroke-width="7.8"/>
<path class="b" d="M513.1,371.5 L543.1,376.5 L559.8,379.8" fill="none" stroke="rgb(76,0,0)" stroke-width="16.3"/>
<path class="b" d="M513.1,371.5 L543.1,376.5 L559.8,379.8" fill="none" stroke="rgb(121,0,0)" stroke-width="6.6"/>
<path class="b" d="M516.5,426.5 L523.1,429.8" fill="none" stroke="rgb(101,0,0)" stroke-width="7.8"/>
<path class="b" d="M546.4,418.1 L559.8,423.1" fill="none" stroke="rgb(76,0,0)" stroke-width="16.3"/>
<path class="b" d="M546.4,418.1 L559.8,423.1" fill="none" stroke="rgb(109,0,0)" stroke-width="6.6"/>
<path class="b" d="M609.7,399.8 L614.7,413.1" fill="none" stroke="rgb(76,0,0)" stroke-width="15.7"/>
<path class="b" d="M609.7,399.8 L614.7,413.1" fill="none" stroke="rgb(121,0,0)" stroke-width="6.0"/>
<path class="b" d="M737.3,211.6 L759.9,216.6 L783.2,205.0 L799.9,199.3 L816.5,201.6 L833.2,211.6 L853.2,220.0 L873.2,213.3 L879.8,200.0 L889.8,198.3 L893.1,220.0 L897.1,246.6 L893.1,274.9 L846.5,278.6 L737.3,279.3 Z" fill="rgb(76,0,0)" stroke="rgb(76,0,0)" stroke-width="9.0"/>
<path class="b" d="M737.3,211.6 L759.9,216.6 L783.2,205.0 L799.9,199.3 L816.5,201.6 L833.2,211.6 L853.2,220.0 L873.2,213.3 L879.8,200.0 L889.8,198.3 L893.1,220.0 L897.1,246.6 L893.1,274.9 L846.5,278.6 L737.3,279.3 Z" fill="rgb(105,0,0)"/>
<path class="b" d="M743.3,233.3 L759.9,236.6 L776.6,246.6 L793.2,249.9 L809.9,240.6" fill="none" stroke="rgb(76,0,0)" stroke-width="21.7"/>
<path class="b" d="M743.3,233.3 L759.9,236.6 L776.6,246.6 L793.2,249.9 L809.9,240.6" fill="none" stroke="rgb(188,0,0)" stroke-width="11.4"/>
<path class="b" d="M741.6,267.3 L759.9,270.6 L779.9,263.9 L793.2,267.3" fill="none" stroke="rgb(76,0,0)" stroke-width="20.3"/>
<path class="b" d="M741.6,267.3 L759.9,270.6 L779.9,263.9 L793.2,267.3" fill="none" stroke="rgb(205,0,0)" stroke-width="10.2"/>
<path class="b" d="M793.2,216.6 L806.5,223.3 L816.5,236.6 L803.9,243.3" fill="none" stroke="rgb(76,0,0)" stroke-width="20.3"/>
<path class="b" d="M793.2,216.6 L806.5,223.3 L816.5,236.6 L803.9,243.3" fill="none" stroke="rgb(205,0,0)" stroke-width="10.2"/>
<path class="b" d="M846.5,233.3 L859.8,243.9 L873.2,236.6 L879.8,220.0 L881.8,210.0" fill="none" stroke="rgb(76,0,0)" stroke-width="17.0"/>
<path class="b" d="M846.5,233.3 L859.8,243.9 L873.2,236.6 L879.8,220.0 L881.8,210.0" fill="none" stroke="rgb(198,0,0)" stroke-width="7.2"/>
<path class="b" d="M826.5,260.6 L846.5,267.3 L859.8,260.6" fill="none" stroke="rgb(76,0,0)" stroke-width="17.0"/>
<path class="b" d="M826.5,260.6 L846.5,267.3 L859.8,260.6" fill="none" stroke="rgb(188,0,0)" stroke-width="7.2"/>
<path class="b" d="M873.2,267.3 L891.5,270.6" fill="none" stroke="rgb(0,0,0)" stroke-width="10.8"/>
<path class="b" d="M873.2,258.3 L893.1,254.9 L894.8,274.9 L876.5,274.9 Z" fill="rgb(51,0,0)"/>
<path class="b" d="M894.8,210.0 L903.1,233.3 L916.5,253.3 L936.4,269.9 L953.1,279.9 L973.1,283.9 L989.7,283.9" fill="none" stroke="rgb(76,0,0)" stroke-width="27.7"/>
<path class="b" d="M894.8,210.0 L903.1,233.3 L916.5,253.3 L936.4,269.9 L953.1,279.9 L973.1,283.9 L989.7,283.9" fill="none" stroke="rgb(116,0,0)" stroke-width="16.8"/>
<path class="b" d="M898.5,216.6 L907.1,237.3 L920.4,257.3 L939.8,275.3 L959.8,280.6" fill="none" stroke="rgb(76,0,0)" stroke-width="16.3"/>
<path class="b" d="M898.5,216.6 L907.1,237.3 L920.4,257.3 L939.8,275.3 L959.8,280.6" fill="none" stroke="rgb(205,0,0)" stroke-width="6.6"/>
<path class="b" d="M913.1,230.0 L933.8,230.0" fill="none" stroke="rgb(87,0,0)" stroke-width="7.8"/>
<path class="b" d="M943.1,243.3 L958.4,243.3" fill="none" stroke="rgb(87,0,0)" stroke-width="7.2"/>
<path class="b" d="M909.8,279.9 L926.4,287.2" fill="none" stroke="rgb(60,0,0)" stroke-width="9.0"/>
<path class="b" d="M989.7,283.9 L1003.0,290.6 L1013.0,306.6 L1026.4,319.9 L1043.0,329.9 L1060.0,326.5" fill="none" stroke="rgb(76,0,0)" stroke-width="29.0"/>
<path class="b" d="M989.7,283.9 L1003.0,290.6 L1013.0,306.6 L1026.4,319.9 L1043.0,329.9 L1060.0,326.5" fill="none" stroke="rgb(111,0,0)" stroke-width="18.0"/>
<path class="b" d="M993.1,280.6 L1006.4,296.6 L1019.7,313.2 L1033.0,323.9" fill="none" stroke="rgb(76,0,0)" stroke-width="15.7"/>
<path class="b" d="M993.1,280.6 L1006.4,296.6 L1019.7,313.2 L1033.0,323.9" fill="none" stroke="rgb(193,0,0)" stroke-width="6.0"/>
<path class="b" d="M1026.4,290.6 L1043.0,309.9 L1060.0,313.9" fill="none" stroke="rgb(76,0,0)" stroke-width="15.0"/>
<path class="b" d="M1026.4,290.6 L1043.0,309.9 L1060.0,313.9" fill="none" stroke="rgb(174,0,0)" stroke-width="5.4"/>
<path class="b" d="M1029.7,333.9 L1043.0,346.5" fill="none" stroke="rgb(92,0,0)" stroke-width="6.0"/>
<path class="b" d="M993.1,344.9 L1013.0,343.2" fill="none" stroke="rgb(72,0,0)" stroke-width="4.0"/>
<path class="b" d="M967.1,404.8 L968.4,405.8" fill="none" stroke="rgb(109,0,0)" stroke-width="2.7"/>
<path class="b" d="M1060.0,299.9 L1073.3,296.6 L1090.0,293.2 L1103.3,299.9 L1103.3,319.9 L1096.6,339.9 L1083.3,353.2 L1073.3,336.5 L1060.0,329.9 Z" fill="rgb(76,0,0)" stroke="rgb(76,0,0)" stroke-width="9.0"/>
<path class="b" d="M1060.0,299.9 L1073.3,296.6 L1090.0,293.2 L1103.3,299.9 L1103.3,319.9 L1096.6,339.9 L1083.3,353.2 L1073.3,336.5 L1060.0,329.9 Z" fill="rgb(105,0,0)"/>
<path class="b" d="M1063.3,313.2 L1080.0,306.6 L1096.6,304.9" fill="none" stroke="rgb(76,0,0)" stroke-width="17.3"/>
<path class="b" d="M1063.3,313.2 L1080.0,306.6 L1096.6,304.9" fill="none" stroke="rgb(188,0,0)" stroke-width="7.5"/>
<path class="b" d="M1102.6,319.9 L1100.6,339.9" fill="none" stroke="rgb(193,0,0)" stroke-width="3.3"/>
<path class="b" d="M1131.6,313.2 L1143.3,306.6 L1159.9,293.2 L1173.2,289.9 L1193.2,296.6 L1198.2,313.2 L1196.6,329.9 L1186.6,336.5 L1169.9,343.2 L1153.3,346.5 L1139.9,343.2 L1131.6,336.5 Z" fill="rgb(76,0,0)" stroke="rgb(76,0,0)" stroke-width="9.0"/>
<path class="b" d="M1131.6,313.2 L1143.3,306.6 L1159.9,293.2 L1173.2,289.9 L1193.2,296.6 L1198.2,313.2 L1196.6,329.9 L1186.6,336.5 L1169.9,343.2 L1153.3,346.5 L1139.9,343.2 L1131.6,336.5 Z" fill="rgb(98,0,0)"/>
<path class="b" d="M1138.3,316.6 L1144.9,329.9 L1156.6,334.9 L1169.9,329.9" fill="none" stroke="rgb(76,0,0)" stroke-width="18.3"/>
<path class="b" d="M1138.3,316.6 L1144.9,329.9 L1156.6,334.9 L1169.9,329.9" fill="none" stroke="rgb(188,0,0)" stroke-width="8.4"/>
<path class="b" d="M1169.9,313.2 L1186.6,316.6" fill="none" stroke="rgb(76,0,0)" stroke-width="17.3"/>
<path class="b" d="M1169.9,313.2 L1186.6,316.6" fill="none" stroke="rgb(121,0,0)" stroke-width="7.5"/>
<path class="b" d="M1159.9,308.2 L1171.6,304.9" fill="none" stroke="rgb(0,0,0)" stroke-width="6.6"/>
<path class="b" d="M1199.9,349.9 L1208.2,354.9" fill="none" stroke="rgb(77,0,0)" stroke-width="5.4"/>
<path class="b" d="M1166.6,456.4 L1186.6,443.1 L1193.2,463.1 L1216.5,466.4 L1233.2,463.1 L1239.9,477.1 L1166.6,477.1 Z" fill="rgb(76,0,0)" stroke="rgb(76,0,0)" stroke-width="9.0"/>
<path class="b" d="M1166.6,456.4 L1186.6,443.1 L1193.2,463.1 L1216.5,466.4 L1233.2,463.1 L1239.9,477.1 L1166.6,477.1 Z" fill="rgb(93,0,0)"/>
<path class="b" d="M1174.9,446.4 L1179.9,466.4" fill="none" stroke="rgb(76,0,0)" stroke-width="13.7"/>
<path class="b" d="M1174.9,446.4 L1179.9,466.4" fill="none" stroke="rgb(169,0,0)" stroke-width="4.2"/>
<path class="b" d="M1204.9,444.8 L1206.5,463.1" fill="none" stroke="rgb(76,0,0)" stroke-width="13.7"/>
<path class="b" d="M1204.9,444.8 L1206.5,463.1" fill="none" stroke="rgb(169,0,0)" stroke-width="4.2"/>
<path class="b" d="M1179.9,473.1 L1199.9,474.8" fill="none" stroke="rgb(76,0,0)" stroke-width="15.7"/>
<path class="b" d="M1179.9,473.1 L1199.9,474.8" fill="none" stroke="rgb(169,0,0)" stroke-width="6.0"/>
<path class="b" d="M1289.8,369.8 L1313.1,364.8 L1336.4,369.8 L1339.8,383.8 L1313.1,388.5 L1286.5,386.5 Z" fill="rgb(76,0,0)" stroke="rgb(76,0,0)" stroke-width="9.0"/>
<path class="b" d="M1289.8,369.8 L1313.1,364.8 L1336.4,369.8 L1339.8,383.8 L1313.1,388.5 L1286.5,386.5 Z" fill="rgb(70,0,0)"/>
<path class="b" d="M1346.4,366.5 L1376.4,361.5 L1406.4,369.8 L1409.7,386.5 L1379.7,393.2 L1353.1,386.5 Z" fill="rgb(76,0,0)" stroke="rgb(76,0,0)" stroke-width="9.0"/>
<path class="b" d="M1346.4,366.5 L1376.4,361.5 L1406.4,369.8 L1409.7,386.5 L1379.7,393.2 L1353.1,386.5 Z" fill="rgb(70,0,0)"/>
<path class="b" d="M1276.5,394.8 L1313.1,393.2 L1346.4,396.5 L1359.8,406.5 L1353.1,413.8 L1313.1,413.8 L1286.5,410.5 Z" fill="rgb(76,0,0)" stroke="rgb(76,0,0)" stroke-width="9.0"/>
<path class="b" d="M1276.5,394.8 L1313.1,393.2 L1346.4,396.5 L1359.8,406.5 L1353.1,413.8 L1313.1,413.8 L1286.5,410.5 Z" fill="rgb(70,0,0)"/>
<path class="b" d="M1369.7,396.5 L1393.1,399.8 L1393.1,419.8 L1373.1,419.8 Z" fill="rgb(58,0,0)"/>
<path class="b" d="M1339.8,439.1 L1359.8,440.4 L1359.8,450.4 L1339.8,449.1 Z" fill="rgb(76,0,0)" stroke="rgb(76,0,0)" stroke-width="9.0"/>
<path class="b" d="M1339.8,439.1 L1359.8,440.4 L1359.8,450.4 L1339.8,449.1 Z" fill="rgb(70,0,0)"/>
<path class="b" d="M1339.8,439.1 L1359.8,440.4 L1359.8,450.4 L1339.8,449.1 Z" fill="rgb(76,0,0)" stroke="rgb(76,0,0)" stroke-width="9.0"/>
<path class="b" d="M1339.8,439.1 L1359.8,440.4 L1359.8,450.4 L1339.8,449.1 Z" fill="rgb(70,0,0)"/>
<path class="b" d="M1393.1,426.5 L1406.4,433.1 L1403.0,446.4 L1393.1,463.1 L1379.7,466.4 L1376.4,453.1 L1386.4,439.8 Z" fill="rgb(76,0,0)" stroke="rgb(76,0,0)" stroke-width="9.0"/>
<path class="b" d="M1393.1,426.5 L1406.4,433.1 L1403.0,446.4 L1393.1,463.1 L1379.7,466.4 L1376.4,453.1 L1386.4,439.8 Z" fill="rgb(117,0,0)"/>
<path class="b" d="M1389.7,446.4 L1384.7,459.8" fill="none" stroke="rgb(76,0,0)" stroke-width="14.3"/>
<path class="b" d="M1389.7,446.4 L1384.7,459.8" fill="none" stroke="rgb(193,0,0)" stroke-width="4.8"/>
<path class="b" d="M1286.5,459.8 L1319.8,456.4 L1359.8,459.8 L1359.8,477.1 L1286.5,477.1 Z" fill="rgb(58,0,0)"/>
<path class="b" d="M1352.2,368.0 L1379.3,365.6 L1401.6,371.7 L1399.1,385.3 L1374.4,386.5 L1353.4,380.4 Z" fill="rgb(76,0,0)" stroke="rgb(76,0,0)" stroke-width="9.0"/>
<path class="b" d="M1352.2,368.0 L1379.3,365.6 L1401.6,371.7 L1399.1,385.3 L1374.4,386.5 L1353.4,380.4 Z" fill="rgb(70,0,0)"/>
<path class="b" d="M1446.0,343.4 L1473.1,336.0 L1475.6,363.1 L1446.0,365.6 Z" fill="rgb(58,0,0)"/>
<path class="b" d="M1478.0,350.8 L1487.9,328.6 L1502.7,313.8 L1517.5,294.0 L1527.4,285.4 L1539.7,289.1 L1552.1,299.0 L1559.5,306.4 L1552.1,316.2 L1539.7,318.7 L1527.4,318.7 L1517.5,323.6 L1502.7,333.5 L1490.4,343.4 L1483.0,353.2 Z" fill="rgb(76,0,0)" stroke="rgb(76,0,0)" stroke-width="9.0"/>
<path class="b" d="M1478.0,350.8 L1487.9,328.6 L1502.7,313.8 L1517.5,294.0 L1527.4,285.4 L1539.7,289.1 L1552.1,299.0 L1559.5,306.4 L1552.1,316.2 L1539.7,318.7 L1527.4,318.7 L1517.5,323.6 L1502.7,333.5 L1490.4,343.4 L1483.0,353.2 Z" fill="rgb(93,0,0)"/>
<path class="b" d="M1487.9,336.0 L1502.7,323.6 L1517.5,313.8" fill="none" stroke="rgb(76,0,0)" stroke-width="16.4"/>
<path class="b" d="M1487.9,336.0 L1502.7,323.6 L1517.5,313.8" fill="none" stroke="rgb(174,0,0)" stroke-width="6.7"/>
<path class="b" d="M1480.5,353.2 L1487.9,343.4" fill="none" stroke="rgb(76,0,0)" stroke-width="13.4"/>
<path class="b" d="M1480.5,353.2 L1487.9,343.4" fill="none" stroke="rgb(169,0,0)" stroke-width="4.0"/>
<path class="b" d="M1537.3,308.8 L1552.1,306.4" fill="none" stroke="rgb(76,0,0)" stroke-width="15.4"/>
<path class="b" d="M1537.3,308.8 L1552.1,306.4" fill="none" stroke="rgb(133,0,0)" stroke-width="5.8"/>
<path class="b" d="M1392.9,417.4 L1411.4,419.9 L1409.0,432.2 L1404.0,440.1 L1386.7,440.1 L1383.0,427.3 Z" fill="rgb(76,0,0)" stroke="rgb(76,0,0)" stroke-width="9.0"/>
<path class="b" d="M1392.9,417.4 L1411.4,419.9 L1409.0,432.2 L1404.0,440.1 L1386.7,440.1 L1383.0,427.3 Z" fill="rgb(98,0,0)"/>
<path class="b" d="M447.5,429.3 L506.7,409.6 L509.2,483.6 L469.7,488.6 L442.6,463.9 Z" fill="rgb(46,0,0)"/>
<path class="b" d="M519.1,424.4 L524.0,434.3" fill="none" stroke="rgb(96,0,0)" stroke-width="6.7"/>
<path class="b" d="M541.3,419.5 L556.1,420.7" fill="none" stroke="rgb(96,0,0)" stroke-width="4.9"/>
<path class="b" d="M368.6,535.4 L398.2,537.9 L400.6,567.5 L378.4,562.6 Z" fill="rgb(76,0,0)" stroke="rgb(76,0,0)" stroke-width="9.0"/>
<path class="b" d="M368.6,535.4 L398.2,537.9 L400.6,567.5 L378.4,562.6 Z" fill="rgb(89,0,0)"/>
<path class="b" d="M388.3,547.8 L394.5,560.1" fill="none" stroke="rgb(76,0,0)" stroke-width="14.4"/>
<path class="b" d="M388.3,547.8 L394.5,560.1" fill="none" stroke="rgb(145,0,0)" stroke-width="4.9"/>
<path class="b" d="M731.6,497.0 L746.6,488.7 L766.6,488.7 L778.2,497.0 L778.2,520.3 L769.9,527.0 L749.9,523.6 L736.6,517.0 Z" fill="rgb(76,0,0)" stroke="rgb(76,0,0)" stroke-width="9.0"/>
<path class="b" d="M731.6,497.0 L746.6,488.7 L766.6,488.7 L778.2,497.0 L778.2,520.3 L769.9,527.0 L749.9,523.6 L736.6,517.0 Z" fill="rgb(105,0,0)"/>
<path class="b" d="M739.9,500.3 L756.6,496.3 L773.2,506.3 L770.6,520.3 L756.6,519.6" fill="none" stroke="rgb(76,0,0)" stroke-width="14.3"/>
<path class="b" d="M739.9,500.3 L756.6,496.3 L773.2,506.3 L770.6,520.3 L756.6,519.6" fill="none" stroke="rgb(205,0,0)" stroke-width="4.8"/>
<path class="b" d="M783.2,477.0 L806.5,477.0 L809.9,490.3 L799.9,500.3 L783.2,501.0 Z" fill="rgb(76,0,0)" stroke="rgb(76,0,0)" stroke-width="9.0"/>
<path class="b" d="M783.2,477.0 L806.5,477.0 L809.9,490.3 L799.9,500.3 L783.2,501.0 Z" fill="rgb(129,0,0)"/>
<path class="b" d="M788.2,483.7 L799.9,490.3" fill="none" stroke="rgb(76,0,0)" stroke-width="15.0"/>
<path class="b" d="M788.2,483.7 L799.9,490.3" fill="none" stroke="rgb(205,0,0)" stroke-width="5.4"/>
<path class="b" d="M811.5,488.7 L833.2,480.3" fill="none" stroke="rgb(65,0,0)" stroke-width="6.0"/>
<path class="b" d="M723.3,616.9 L731.6,633.5 L743.3,650.2 L757.3,643.5" fill="none" stroke="rgb(76,0,0)" stroke-width="13.7"/>
<path class="b" d="M723.3,616.9 L731.6,633.5 L743.3,650.2 L757.3,643.5" fill="none" stroke="rgb(181,0,0)" stroke-width="4.2"/>
<path class="b" d="M763.2,537.0 L764.9,553.6" fill="none" stroke="rgb(76,0,0)" stroke-width="13.7"/>
<path class="b" d="M763.2,537.0 L764.9,553.6" fill="none" stroke="rgb(121,0,0)" stroke-width="4.2"/>
<path class="b" d="M759.9,650.2 L773.2,640.9 L789.9,627.5 L803.9,620.2" fill="none" stroke="rgb(76,0,0)" stroke-width="18.3"/>
<path class="b" d="M759.9,650.2 L773.2,640.9 L789.9,627.5 L803.9,620.2" fill="none" stroke="rgb(109,0,0)" stroke-width="8.4"/>
<path class="b" d="M759.9,650.2 L773.2,640.9 L789.9,627.5 L803.9,620.2" fill="none" stroke="rgb(230,0,0)" stroke-width="3.0"/>
<path class="b" d="M806.5,590.2 L820.5,586.9" fill="none" stroke="rgb(76,0,0)" stroke-width="14.3"/>
<path class="b" d="M806.5,590.2 L820.5,586.9" fill="none" stroke="rgb(133,0,0)" stroke-width="4.8"/>
<path class="b" d="M790.6,591.9 L803.2,597.6 L806.5,616.9" fill="none" stroke="rgb(218,0,0)" stroke-width="1.7"/>
<path class="b" d="M794.9,567.6 L796.6,568.3" fill="none" stroke="rgb(193,0,0)" stroke-width="2.7"/>
<path class="b" d="M826.5,583.6 L839.9,573.6 L853.2,576.9 L859.8,563.6 L851.5,546.9 L859.8,548.6 L873.2,560.3 L886.5,565.3 L893.1,573.6 L906.5,570.3 L904.8,553.6 L913.1,548.6 L926.4,560.3 L936.4,570.3 L947.1,573.6 L947.1,616.9 L933.1,613.6 L919.8,610.2 L906.5,606.9 L893.1,605.2 L876.5,600.2 L859.8,596.9 L839.9,593.6 L826.5,593.6 Z" fill="rgb(76,0,0)" stroke="rgb(76,0,0)" stroke-width="9.0"/>
<path class="b" d="M826.5,583.6 L839.9,573.6 L853.2,576.9 L859.8,563.6 L851.5,546.9 L859.8,548.6 L873.2,560.3 L886.5,565.3 L893.1,573.6 L906.5,570.3 L904.8,553.6 L913.1,548.6 L926.4,560.3 L936.4,570.3 L947.1,573.6 L947.1,616.9 L933.1,613.6 L919.8,610.2 L906.5,606.9 L893.1,605.2 L876.5,600.2 L859.8,596.9 L839.9,593.6 L826.5,593.6 Z" fill="rgb(98,0,0)"/>
<path class="b" d="M833.2,583.6 L853.2,586.9 L873.2,593.6 L893.1,591.9 L913.1,593.6 L933.1,596.9" fill="none" stroke="rgb(76,0,0)" stroke-width="19.0"/>
<path class="b" d="M833.2,583.6 L853.2,586.9 L873.2,593.6 L893.1,591.9 L913.1,593.6 L933.1,596.9" fill="none" stroke="rgb(193,0,0)" stroke-width="9.0"/>
<path class="b" d="M949.8,576.9 L966.4,580.2 L979.7,586.9 L993.1,583.6 L1006.4,573.6 L1026.4,566.9 L1043.0,565.3 L1046.3,576.9 L1036.4,590.2 L1026.4,610.2 L1013.0,623.5 L993.1,626.9 L973.1,623.5 L953.1,616.9 L949.8,610.2 L959.8,603.6 L979.7,596.9 L986.4,591.9 L973.1,590.2 L953.1,586.9 Z" fill="rgb(76,0,0)" stroke="rgb(76,0,0)" stroke-width="9.0"/>
<path class="b" d="M949.8,576.9 L966.4,580.2 L979.7,586.9 L993.1,583.6 L1006.4,573.6 L1026.4,566.9 L1043.0,565.3 L1046.3,576.9 L1036.4,590.2 L1026.4,610.2 L1013.0,623.5 L993.1,626.9 L973.1,623.5 L953.1,616.9 L949.8,610.2 L959.8,603.6 L979.7,596.9 L986.4,591.9 L973.1,590.2 L953.1,586.9 Z" fill="rgb(98,0,0)"/>
<path class="b" d="M979.7,610.2 L993.1,603.6 L1003.0,590.2 L1013.0,580.2 L1033.0,575.3" fill="none" stroke="rgb(76,0,0)" stroke-width="19.0"/>
<path class="b" d="M979.7,610.2 L993.1,603.6 L1003.0,590.2 L1013.0,580.2 L1033.0,575.3" fill="none" stroke="rgb(193,0,0)" stroke-width="9.0"/>
<path class="b" d="M1046.3,596.9 L1060.0,600.9" fill="none" stroke="rgb(76,0,0)" stroke-width="22.3"/>
<path class="b" d="M1046.3,596.9 L1060.0,600.9" fill="none" stroke="rgb(169,0,0)" stroke-width="12.0"/>
<path class="b" d="M1006.4,490.3 L1023.0,487.0 L1029.7,510.3 L1013.0,517.0 Z" fill="rgb(76,0,0)" stroke="rgb(76,0,0)" stroke-width="9.0"/>
<path class="b" d="M1006.4,490.3 L1023.0,487.0 L1029.7,510.3 L1013.0,517.0 Z" fill="rgb(70,0,0)"/>
<path class="b" d="M968.1,485.3 L978.1,490.3" fill="none" stroke="rgb(72,0,0)" stroke-width="4.2"/>
<path class="b" d="M883.8,649.5 L897.1,646.9" fill="none" stroke="rgb(76,0,0)" stroke-width="13.7"/>
<path class="b" d="M883.8,649.5 L897.1,646.9" fill="none" stroke="rgb(145,0,0)" stroke-width="4.2"/>
<path class="b" d="M764.9,693.5 L778.2,697.5" fill="none" stroke="rgb(101,0,0)" stroke-width="5.4"/>
<path class="b" d="M858.2,706.8 L873.2,693.5 L886.5,680.2 L893.1,690.2 L906.5,693.5 L919.8,698.5 L943.1,700.1 L963.1,703.5 L979.7,706.8 L996.4,706.8 L1013.0,706.8 L1026.4,706.8 L1039.7,710.1 L1053.0,716.8 L1060.0,716.8 L1060.0,740.1 L1043.0,743.4 L1026.4,746.8 L1016.4,740.1 L1003.0,733.5 L986.4,733.5 L969.7,730.1 L953.1,726.8 L936.4,723.5 L919.8,723.5 L903.1,726.8 L889.8,730.1 L876.5,726.8 L866.5,733.5 L859.8,723.5 Z" fill="rgb(76,0,0)" stroke="rgb(76,0,0)" stroke-width="9.0"/>
<path class="b" d="M858.2,706.8 L873.2,693.5 L886.5,680.2 L893.1,690.2 L906.5,693.5 L919.8,698.5 L943.1,700.1 L963.1,703.5 L979.7,706.8 L996.4,706.8 L1013.0,706.8 L1026.4,706.8 L1039.7,710.1 L1053.0,716.8 L1060.0,716.8 L1060.0,740.1 L1043.0,743.4 L1026.4,746.8 L1016.4,740.1 L1003.0,733.5 L986.4,733.5 L969.7,730.1 L953.1,726.8 L936.4,723.5 L919.8,723.5 L903.1,726.8 L889.8,730.1 L876.5,726.8 L866.5,733.5 L859.8,723.5 Z" fill="rgb(98,0,0)"/>
<path class="b" d="M876.5,706.8 L893.1,710.1 L913.1,710.1 L926.4,713.5" fill="none" stroke="rgb(76,0,0)" stroke-width="17.3"/>
<path class="b" d="M876.5,706.8 L893.1,710.1 L913.1,710.1 L926.4,713.5" fill="none" stroke="rgb(193,0,0)" stroke-width="7.5"/>
<path class="b" d="M946.4,716.8 L966.4,720.1" fill="none" stroke="rgb(76,0,0)" stroke-width="17.3"/>
<path class="b" d="M946.4,716.8 L966.4,720.1" fill="none" stroke="rgb(188,0,0)" stroke-width="7.5"/>
<path class="b" d="M976.4,720.1 L996.4,723.5 L1013.0,726.8 L1023.0,720.1" fill="none" stroke="rgb(76,0,0)" stroke-width="20.7"/>
<path class="b" d="M976.4,720.1 L996.4,723.5 L1013.0,726.8 L1023.0,720.1" fill="none" stroke="rgb(213,0,0)" stroke-width="10.5"/>
<path class="b" d="M1129.9,508.6 L1139.9,502.0 L1156.6,492.0 L1173.2,478.7 L1229.9,478.7 L1243.2,488.7 L1239.9,503.6 L1223.2,518.6 L1206.5,530.3 L1186.6,533.6 L1169.9,527.0 L1153.3,523.6 L1134.9,518.6 Z" fill="rgb(76,0,0)" stroke="rgb(76,0,0)" stroke-width="9.0"/>
<path class="b" d="M1129.9,508.6 L1139.9,502.0 L1156.6,492.0 L1173.2,478.7 L1229.9,478.7 L1243.2,488.7 L1239.9,503.6 L1223.2,518.6 L1206.5,530.3 L1186.6,533.6 L1169.9,527.0 L1153.3,523.6 L1134.9,518.6 Z" fill="rgb(93,0,0)"/>
<path class="b" d="M1173.2,490.3 L1193.2,497.0 L1199.9,517.0 L1186.6,527.0" fill="none" stroke="rgb(76,0,0)" stroke-width="22.3"/>
<path class="b" d="M1173.2,490.3 L1193.2,497.0 L1199.9,517.0 L1186.6,527.0" fill="none" stroke="rgb(169,0,0)" stroke-width="12.0"/>
<path class="b" d="M1259.8,483.7 L1319.8,480.3 L1313.1,503.6 L1289.8,520.3 L1273.2,537.0 L1263.2,533.6 Z" fill="rgb(42,0,0)"/>
<path class="b" d="M1299.8,493.7 L1316.5,503.6" fill="none" stroke="rgb(72,0,0)" stroke-width="9.0"/>
<path class="b" d="M1147.3,576.9 L1159.9,560.3 L1173.2,548.9" fill="none" stroke="rgb(76,0,0)" stroke-width="17.0"/>
<path class="b" d="M1147.3,576.9 L1159.9,560.3 L1173.2,548.9" fill="none" stroke="rgb(145,0,0)" stroke-width="7.2"/>
<path class="b" d="M1179.9,578.6 L1201.5,564.3 L1233.2,546.9 L1249.8,546.9 L1238.2,559.6 L1219.2,572.3 L1193.2,584.2 Z" fill="rgb(46,0,0)"/>
<path class="b" d="M1060.0,607.6 L1073.3,603.6 L1084.0,610.2" fill="none" stroke="rgb(76,0,0)" stroke-width="25.0"/>
<path class="b" d="M1060.0,607.6 L1073.3,603.6 L1084.0,610.2" fill="none" stroke="rgb(145,0,0)" stroke-width="14.4"/>
<path class="b" d="M1060.0,586.9 L1063.3,623.5" fill="none" stroke="rgb(76,0,0)" stroke-width="19.0"/>
<path class="b" d="M1060.0,586.9 L1063.3,623.5" fill="none" stroke="rgb(121,0,0)" stroke-width="9.0"/>
<path class="b" d="M1091.6,616.9 L1106.6,623.5 L1126.6,620.2 L1139.9,613.6 L1146.6,633.5 L1153.9,646.9" fill="none" stroke="rgb(76,0,0)" stroke-width="20.3"/>
<path class="b" d="M1091.6,616.9 L1106.6,623.5 L1126.6,620.2 L1139.9,613.6 L1146.6,633.5 L1153.9,646.9" fill="none" stroke="rgb(150,0,0)" stroke-width="10.2"/>
<path class="b" d="M1096.6,593.6 L1103.3,595.2" fill="none" stroke="rgb(96,0,0)" stroke-width="4.2"/>
<path class="b" d="M1116.6,598.6 L1126.6,600.9" fill="none" stroke="rgb(96,0,0)" stroke-width="4.2"/>
<path class="b" d="M1154.9,610.2 L1173.2,606.9 L1193.2,610.2 L1216.5,610.2 L1216.5,626.9 L1199.9,636.9 L1179.9,643.5 L1159.9,646.9 L1154.9,633.5 Z" fill="rgb(76,0,0)" stroke="rgb(76,0,0)" stroke-width="9.0"/>
<path class="b" d="M1154.9,610.2 L1173.2,606.9 L1193.2,610.2 L1216.5,610.2 L1216.5,626.9 L1199.9,636.9 L1179.9,643.5 L1159.9,646.9 L1154.9,633.5 Z" fill="rgb(105,0,0)"/>
<path class="b" d="M1163.2,636.9 L1176.6,626.9 L1193.2,623.5 L1209.9,620.2" fill="none" stroke="rgb(76,0,0)" stroke-width="17.0"/>
<path class="b" d="M1163.2,636.9 L1176.6,626.9 L1193.2,623.5 L1209.9,620.2" fill="none" stroke="rgb(188,0,0)" stroke-width="7.2"/>
<path class="b" d="M1159.9,603.6 L1169.9,605.2" fill="none" stroke="rgb(76,0,0)" stroke-width="13.7"/>
<path class="b" d="M1159.9,603.6 L1169.9,605.2" fill="none" stroke="rgb(109,0,0)" stroke-width="4.2"/>
<path class="b" d="M1203.2,593.6 L1216.5,590.2 L1233.2,603.6 L1249.8,593.6 L1266.5,583.6 L1286.5,576.9 L1313.1,566.9 L1339.8,561.9 L1359.8,566.9 L1374.7,571.9 L1373.1,580.2 L1353.1,590.2 L1336.4,600.2 L1319.8,610.2 L1306.5,616.9 L1293.1,623.5 L1276.5,626.9 L1266.5,616.9 L1253.2,610.2 L1239.9,616.9 L1226.5,616.9 L1213.2,606.9 Z" fill="rgb(76,0,0)" stroke="rgb(76,0,0)" stroke-width="9.0"/>
<path class="b" d="M1203.2,593.6 L1216.5,590.2 L1233.2,603.6 L1249.8,593.6 L1266.5,583.6 L1286.5,576.9 L1313.1,566.9 L1339.8,561.9 L1359.8,566.9 L1374.7,571.9 L1373.1,580.2 L1353.1,590.2 L1336.4,600.2 L1319.8,610.2 L1306.5,616.9 L1293.1,623.5 L1276.5,626.9 L1266.5,616.9 L1253.2,610.2 L1239.9,616.9 L1226.5,616.9 L1213.2,606.9 Z" fill="rgb(89,0,0)"/>
<path class="b" d="M1226.5,610.2 L1246.5,603.6 L1263.2,593.6 L1286.5,586.9 L1299.8,580.2" fill="none" stroke="rgb(76,0,0)" stroke-width="15.0"/>
<path class="b" d="M1226.5,610.2 L1246.5,603.6 L1263.2,593.6 L1286.5,586.9 L1299.8,580.2" fill="none" stroke="rgb(205,0,0)" stroke-width="5.4"/>
<path class="b" d="M1306.5,583.6 L1319.8,593.6 L1333.1,586.9 L1326.4,576.9" fill="none" stroke="rgb(76,0,0)" stroke-width="16.3"/>
<path class="b" d="M1306.5,583.6 L1319.8,593.6 L1333.1,586.9 L1326.4,576.9" fill="none" stroke="rgb(205,0,0)" stroke-width="6.6"/>
<path class="b" d="M1339.8,573.6 L1359.8,573.6" fill="none" stroke="rgb(76,0,0)" stroke-width="15.7"/>
<path class="b" d="M1339.8,573.6 L1359.8,573.6" fill="none" stroke="rgb(145,0,0)" stroke-width="6.0"/>
<path class="b" d="M1149.9,706.8 L1166.6,710.1 L1193.2,710.1 L1216.5,706.8 L1233.2,710.1 L1241.5,723.5 L1239.9,743.4 L1219.9,753.4 L1206.5,743.4 L1193.2,730.1 L1173.2,723.5 L1153.3,723.5 Z" fill="rgb(76,0,0)" stroke="rgb(76,0,0)" stroke-width="9.0"/>
<path class="b" d="M1149.9,706.8 L1166.6,710.1 L1193.2,710.1 L1216.5,706.8 L1233.2,710.1 L1241.5,723.5 L1239.9,743.4 L1219.9,753.4 L1206.5,743.4 L1193.2,730.1 L1173.2,723.5 L1153.3,723.5 Z" fill="rgb(98,0,0)"/>
<path class="b" d="M1193.2,720.1 L1206.5,733.5 L1219.9,726.8 L1229.9,716.8" fill="none" stroke="rgb(76,0,0)" stroke-width="18.3"/>
<path class="b" d="M1193.2,720.1 L1206.5,733.5 L1219.9,726.8 L1229.9,716.8" fill="none" stroke="rgb(188,0,0)" stroke-width="8.4"/>
<path class="b" d="M1106.6,715.5 L1133.9,714.5" fill="none" stroke="rgb(169,0,0)" stroke-width="3.0"/>
<path class="b" d="M1060.0,715.1 L1073.3,721.8" fill="none" stroke="rgb(76,0,0)" stroke-width="17.0"/>
<path class="b" d="M1060.0,715.1 L1073.3,721.8" fill="none" stroke="rgb(145,0,0)" stroke-width="7.2"/>
<path class="b" d="M760.0,486.6 L773.3,476.6 L786.6,460.0 L796.6,450.0 L813.3,443.3 L833.3,441.6 L859.9,441.6 L886.6,438.3 L899.9,423.3 L909.9,410.0 L919.9,420.0 L926.5,436.6 L939.9,450.0 L946.5,463.3 L933.2,464.9 L916.5,461.6 L899.9,463.3 L886.6,456.6 L866.6,453.3 L846.6,456.6 L826.6,466.6 L813.3,476.6 L803.3,489.9 L793.3,499.9 L780.0,509.9 L773.3,526.6 L760.0,529.9 Z" fill="rgb(76,0,0)" stroke="rgb(76,0,0)" stroke-width="9.0"/>
<path class="b" d="M760.0,486.6 L773.3,476.6 L786.6,460.0 L796.6,450.0 L813.3,443.3 L833.3,441.6 L859.9,441.6 L886.6,438.3 L899.9,423.3 L909.9,410.0 L919.9,420.0 L926.5,436.6 L939.9,450.0 L946.5,463.3 L933.2,464.9 L916.5,461.6 L899.9,463.3 L886.6,456.6 L866.6,453.3 L846.6,456.6 L826.6,466.6 L813.3,476.6 L803.3,489.9 L793.3,499.9 L780.0,509.9 L773.3,526.6 L760.0,529.9 Z" fill="rgb(98,0,0)"/>
<path class="b" d="M763.3,509.9 L776.7,496.6 L790.0,479.9 L803.3,463.3 L820.0,455.0 L843.3,450.0 L869.9,448.3 L893.2,446.6 L909.9,450.0 L926.5,446.6" fill="none" stroke="rgb(76,0,0)" stroke-width="16.3"/>
<path class="b" d="M763.3,509.9 L776.7,496.6 L790.0,479.9 L803.3,463.3 L820.0,455.0 L843.3,450.0 L869.9,448.3 L893.2,446.6 L909.9,450.0 L926.5,446.6" fill="none" stroke="rgb(213,0,0)" stroke-width="6.6"/>
<path class="b" d="M899.9,430.0 L909.9,420.0" fill="none" stroke="rgb(76,0,0)" stroke-width="15.7"/>
<path class="b" d="M899.9,430.0 L909.9,420.0" fill="none" stroke="rgb(145,0,0)" stroke-width="6.0"/>
<path class="b" d="M923.2,431.6 L946.5,433.3 L973.2,435.0 L993.1,443.3 L1006.5,433.3 L1016.5,435.0 L1023.1,450.0 L1033.1,440.0 L1049.8,430.0 L1066.4,425.0 L1079.7,426.6 L1093.1,440.0 L1103.0,443.3 L1103.0,473.3 L1089.7,479.9 L1073.1,476.6 L1053.1,474.9 L1036.4,471.6 L1019.8,476.6 L1006.5,474.9 L993.1,466.6 L979.8,466.6 L966.5,471.6 L953.2,466.6 L939.9,460.0 L929.9,450.0 Z" fill="rgb(76,0,0)" stroke="rgb(76,0,0)" stroke-width="9.0"/>
<path class="b" d="M923.2,431.6 L946.5,433.3 L973.2,435.0 L993.1,443.3 L1006.5,433.3 L1016.5,435.0 L1023.1,450.0 L1033.1,440.0 L1049.8,430.0 L1066.4,425.0 L1079.7,426.6 L1093.1,440.0 L1103.0,443.3 L1103.0,473.3 L1089.7,479.9 L1073.1,476.6 L1053.1,474.9 L1036.4,471.6 L1019.8,476.6 L1006.5,474.9 L993.1,466.6 L979.8,466.6 L966.5,471.6 L953.2,466.6 L939.9,460.0 L929.9,450.0 Z" fill="rgb(98,0,0)"/>
<path class="b" d="M939.9,446.6 L956.5,450.0 L976.5,453.3 L993.1,455.0 L1009.8,460.0 L1023.1,466.6" fill="none" stroke="rgb(76,0,0)" stroke-width="19.0"/>
<path class="b" d="M939.9,446.6 L956.5,450.0 L976.5,453.3 L993.1,455.0 L1009.8,460.0 L1023.1,466.6" fill="none" stroke="rgb(205,0,0)" stroke-width="9.0"/>
<path class="b" d="M1036.4,453.3 L1049.8,443.3 L1063.1,450.0 L1069.7,463.3 L1059.8,466.6 L1046.4,463.3" fill="none" stroke="rgb(76,0,0)" stroke-width="21.7"/>
<path class="b" d="M1036.4,453.3 L1049.8,443.3 L1063.1,450.0 L1069.7,463.3 L1059.8,466.6 L1046.4,463.3" fill="none" stroke="rgb(198,0,0)" stroke-width="11.4"/>
<path class="b" d="M1079.7,450.0 L1096.4,456.6" fill="none" stroke="rgb(76,0,0)" stroke-width="19.0"/>
<path class="b" d="M1079.7,450.0 L1096.4,456.6" fill="none" stroke="rgb(145,0,0)" stroke-width="9.0"/>
<path class="b" d="M1106.4,456.6 L1119.7,456.6 L1133.0,450.0 L1146.3,453.3 L1160.0,463.3 L1160.0,483.3 L1143.0,496.6 L1129.7,489.9 L1119.7,479.9 L1106.4,476.6 Z" fill="rgb(76,0,0)" stroke="rgb(76,0,0)" stroke-width="9.0"/>
<path class="b" d="M1106.4,456.6 L1119.7,456.6 L1133.0,450.0 L1146.3,453.3 L1160.0,463.3 L1160.0,483.3 L1143.0,496.6 L1129.7,489.9 L1119.7,479.9 L1106.4,476.6 Z" fill="rgb(105,0,0)"/>
<path class="b" d="M1113.0,466.6 L1129.7,466.6 L1143.0,476.6 L1156.3,473.3" fill="none" stroke="rgb(76,0,0)" stroke-width="19.0"/>
<path class="b" d="M1113.0,466.6 L1129.7,466.6 L1143.0,476.6 L1156.3,473.3" fill="none" stroke="rgb(188,0,0)" stroke-width="9.0"/>
<path class="b" d="M1006.5,489.9 L1023.1,484.9 L1033.1,499.9 L1026.4,516.6 L1009.8,513.2 Z" fill="rgb(76,0,0)" stroke="rgb(76,0,0)" stroke-width="9.0"/>
<path class="b" d="M1006.5,489.9 L1023.1,484.9 L1033.1,499.9 L1026.4,516.6 L1009.8,513.2 Z" fill="rgb(70,0,0)"/>
<path class="b" d="M968.2,484.9 L978.2,490.6" fill="none" stroke="rgb(77,0,0)" stroke-width="4.8"/>
<path class="b" d="M1133.0,513.2 L1139.7,519.9" fill="none" stroke="rgb(76,0,0)" stroke-width="14.3"/>
<path class="b" d="M1133.0,513.2 L1139.7,519.9" fill="none" stroke="rgb(121,0,0)" stroke-width="4.8"/>
<path class="b" d="M966.5,404.0 L968.5,405.3" fill="none" stroke="rgb(121,0,0)" stroke-width="3.3"/>
<path class="b" d="M1046.4,586.5 L1059.8,573.2 L1073.1,586.5 L1079.7,606.5 L1069.7,626.5 L1056.4,639.8 L1049.8,626.5 L1053.1,606.5 Z" fill="rgb(76,0,0)" stroke="rgb(76,0,0)" stroke-width="9.0"/>
<path class="b" d="M1046.4,586.5 L1059.8,573.2 L1073.1,586.5 L1079.7,606.5 L1069.7,626.5 L1056.4,639.8 L1049.8,626.5 L1053.1,606.5 Z" fill="rgb(98,0,0)"/>
<path class="b" d="M1059.8,593.2 L1066.4,613.2 L1059.8,629.8" fill="none" stroke="rgb(76,0,0)" stroke-width="16.3"/>
<path class="b" d="M1059.8,593.2 L1066.4,613.2 L1059.8,629.8" fill="none" stroke="rgb(174,0,0)" stroke-width="6.6"/>
<path class="b" d="M1106.4,596.5 L1113.0,598.2" fill="none" stroke="rgb(96,0,0)" stroke-width="4.0"/>
<path class="b" d="M1123.0,599.8 L1133.0,603.2" fill="none" stroke="rgb(96,0,0)" stroke-width="4.0"/>
<path class="b" d="M884.9,648.1 L896.6,646.5" fill="none" stroke="rgb(76,0,0)" stroke-width="14.3"/>
<path class="b" d="M884.9,648.1 L896.6,646.5" fill="none" stroke="rgb(145,0,0)" stroke-width="4.8"/>
<path class="b" d="M828.2,776.6 L836.7,784.3 L845.2,789.4 L846.9,798.0 L848.6,808.2 L855.4,815.0 L865.7,815.0 L875.9,821.8 L882.7,832.0 L886.1,838.0" fill="none" stroke="rgb(101,0,0)" stroke-width="7.7"/>
<path class="b" d="M835.0,779.2 L843.5,787.7 L846.1,796.2 L848.6,808.2 L855.4,815.0" fill="none" stroke="rgb(76,0,0)" stroke-width="11.4"/>
<path class="b" d="M835.0,779.2 L843.5,787.7 L846.1,796.2 L848.6,808.2 L855.4,815.0" fill="none" stroke="rgb(218,0,0)" stroke-width="2.1"/>
<path class="b" d="M862.3,815.0 L870.8,818.4 L879.3,826.9 L884.4,835.4" fill="none" stroke="rgb(218,0,0)" stroke-width="2.0"/>
<path class="b" d="M868.2,805.6 L869.9,809.9" fill="none" stroke="rgb(92,0,0)" stroke-width="4.6"/>
<path class="b" d="M843.2,770.7 L843.5,771.4" fill="none" stroke="rgb(96,0,0)" stroke-width="1.7"/>
<path class="b" d="M1228.0,820.1 L1232.3,828.6 L1235.7,837.2 L1242.5,842.3 L1247.6,850.8 L1252.7,857.6 L1262.9,857.6 L1268.1,850.8 L1270.6,842.3 L1271.5,828.6 L1270.6,815.0 L1266.4,820.1 L1262.9,828.6 L1256.1,832.0 L1249.3,833.7 L1242.5,832.0 L1235.7,825.2 Z" fill="rgb(76,0,0)" stroke="rgb(76,0,0)" stroke-width="9.0"/>
<path class="b" d="M1228.0,820.1 L1232.3,828.6 L1235.7,837.2 L1242.5,842.3 L1247.6,850.8 L1252.7,857.6 L1262.9,857.6 L1268.1,850.8 L1270.6,842.3 L1271.5,828.6 L1270.6,815.0 L1266.4,820.1 L1262.9,828.6 L1256.1,832.0 L1249.3,833.7 L1242.5,832.0 L1235.7,825.2 Z" fill="rgb(98,0,0)"/>
<path class="b" d="M1239.1,838.9 L1249.3,844.0 L1256.1,850.8 L1259.5,857.6" fill="none" stroke="rgb(76,0,0)" stroke-width="14.8"/>
<path class="b" d="M1239.1,838.9 L1249.3,844.0 L1256.1,850.8 L1259.5,857.6" fill="none" stroke="rgb(198,0,0)" stroke-width="5.2"/>
<path class="b" d="M1264.7,828.6 L1268.9,821.8" fill="none" stroke="rgb(76,0,0)" stroke-width="11.4"/>
<path class="b" d="M1264.7,828.6 L1268.9,821.8" fill="none" stroke="rgb(157,0,0)" stroke-width="2.1"/>
<path class="b" d="M1259.2,815.0 L1260.2,816.0" fill="none" stroke="rgb(96,0,0)" stroke-width="2.1"/>
<path class="b" d="M1223.4,820.1 L1224.8,823.5" fill="none" stroke="rgb(193,0,0)" stroke-width="1.7"/>
<path class="b" d="M569.3,234.3 L576.7,217.1 L594.0,207.2 L601.4,199.8 L618.7,202.3 L628.6,208.4 L648.3,207.2 L658.2,202.3 L673.0,207.2 L692.7,212.1 L707.5,208.4 L732.7,212.1 L732.7,303.4 L717.4,303.4 L707.5,293.6 L692.7,301.0 L677.9,303.4 L658.2,301.0 L643.4,293.6 L623.6,301.0 L613.8,288.6 L601.4,283.7 L618.7,271.4 L628.6,259.0 L618.7,246.7 L603.9,241.7 L584.2,239.3 Z" fill="rgb(70,0,0)"/>
<path d="M603.9,214.1 L616.2,210.7 L627.3,215.8 L625.6,225.7 L613.8,228.4 L603.9,224.0 Z" fill="rgb(0,255,255)" style="mix-blend-mode:darken"/>
<path d="M668.0,264.0 L692.7,259.0 L714.9,264.0 L717.4,283.7 L692.7,286.2 L670.5,281.2 Z" fill="rgb(0,255,255)" style="mix-blend-mode:darken"/>
<path class="b" d="M576.7,226.9 L591.6,217.1 L601.4,209.7 L618.7,206.7 L629.8,212.1 L631.5,222.0 L623.6,229.9 L606.4,232.4 L594.0,229.9 L581.7,234.3 L572.3,237.3" fill="none" stroke="rgb(76,0,0)" stroke-width="14.4"/>
<path class="b" d="M576.7,226.9 L591.6,217.1 L601.4,209.7 L618.7,206.7 L629.8,212.1 L631.5,222.0 L623.6,229.9 L606.4,232.4 L594.0,229.9 L581.7,234.3 L572.3,237.3" fill="none" stroke="rgb(169,0,0)" stroke-width="4.9"/>
<path class="b" d="M633.5,214.6 L648.3,217.1 L663.1,212.1 L677.9,217.1 L692.7,219.5 L707.5,214.6" fill="none" stroke="rgb(76,0,0)" stroke-width="16.4"/>
<path class="b" d="M633.5,214.6 L648.3,217.1 L663.1,212.1 L677.9,217.1 L692.7,219.5 L707.5,214.6" fill="none" stroke="rgb(193,0,0)" stroke-width="6.7"/>
<path class="b" d="M692.7,234.3 L702.6,224.5 L717.4,219.5 L730.2,222.0 L731.2,254.1 L717.4,251.6 L702.6,254.1 L695.2,246.7 Z" fill="rgb(76,0,0)" stroke="rgb(76,0,0)" stroke-width="9.0"/>
<path class="b" d="M692.7,234.3 L702.6,224.5 L717.4,219.5 L730.2,222.0 L731.2,254.1 L717.4,251.6 L702.6,254.1 L695.2,246.7 Z" fill="rgb(168,0,0)"/>
<path class="b" d="M727.7,259.0 L725.3,278.8 L717.9,293.6 L712.9,303.4" fill="none" stroke="rgb(76,0,0)" stroke-width="15.9"/>
<path class="b" d="M727.7,259.0 L725.3,278.8 L717.9,293.6 L712.9,303.4" fill="none" stroke="rgb(193,0,0)" stroke-width="6.2"/>
<path class="b" d="M603.9,283.7 L618.7,278.8 L633.5,268.9 L648.3,264.0 L658.2,256.6 L673.0,251.6" fill="none" stroke="rgb(76,0,0)" stroke-width="15.9"/>
<path class="b" d="M603.9,283.7 L618.7,278.8 L633.5,268.9 L648.3,264.0 L658.2,256.6 L673.0,251.6" fill="none" stroke="rgb(133,0,0)" stroke-width="6.2"/>
<path class="b" d="M626.1,241.7 L633.5,254.1 L628.6,266.4" fill="none" stroke="rgb(76,0,0)" stroke-width="12.9"/>
<path class="b" d="M626.1,241.7 L633.5,254.1 L628.6,266.4" fill="none" stroke="rgb(181,0,0)" stroke-width="3.6"/>
<path class="b" d="M658.2,283.7 L668.0,278.3 L673.5,293.6 L663.6,301.0 Z" fill="rgb(76,0,0)" stroke="rgb(76,0,0)" stroke-width="9.0"/>
<path class="b" d="M658.2,283.7 L668.0,278.3 L673.5,293.6 L663.6,301.0 Z" fill="rgb(145,0,0)"/>
<path class="b" d="M693.2,291.6 L698.1,296.0" fill="none" stroke="rgb(76,0,0)" stroke-width="12.9"/>
<path class="b" d="M693.2,291.6 L698.1,296.0" fill="none" stroke="rgb(145,0,0)" stroke-width="3.6"/>
<path class="b" d="M632.3,355.2 L643.4,350.3 L654.5,355.2 L656.9,365.1 L648.3,372.5 L636.0,370.0 L632.3,355.2" fill="none" stroke="rgb(0,0,153)" stroke-width="2.2"/>
<path class="b" d="M631.0,313.3 L636.0,333.0 L638.4,347.8" fill="none" stroke="rgb(0,0,153)" stroke-width="2.5"/>
<path class="b" d="M648.3,315.8 L658.2,333.0 L668.0,338.0" fill="none" stroke="rgb(0,0,153)" stroke-width="2.2"/>
<path class="b" d="M673.0,318.2 L677.9,333.0 L680.4,347.8 L673.0,362.6 L668.0,372.5" fill="none" stroke="rgb(76,0,0)" stroke-width="15.9"/>
<path class="b" d="M673.0,318.2 L677.9,333.0 L680.4,347.8 L673.0,362.6 L668.0,372.5" fill="none" stroke="rgb(150,0,0)" stroke-width="6.2"/>
<path class="b" d="M692.7,333.0 L702.6,342.9 L712.5,357.7 L722.3,372.5 L729.7,382.4" fill="none" stroke="rgb(76,0,0)" stroke-width="18.4"/>
<path class="b" d="M692.7,333.0 L702.6,342.9 L712.5,357.7 L722.3,372.5 L729.7,382.4" fill="none" stroke="rgb(150,0,0)" stroke-width="8.4"/>
<path class="b" d="M707.5,313.3 L722.3,323.2 L729.7,333.0" fill="none" stroke="rgb(76,0,0)" stroke-width="18.4"/>
<path class="b" d="M707.5,313.3 L722.3,323.2 L729.7,333.0" fill="none" stroke="rgb(150,0,0)" stroke-width="8.4"/>
<path class="b" d="M660.6,377.5 L673.0,382.4 L682.8,379.9" fill="none" stroke="rgb(76,0,0)" stroke-width="13.9"/>
<path class="b" d="M660.6,377.5 L673.0,382.4 L682.8,379.9" fill="none" stroke="rgb(121,0,0)" stroke-width="4.4"/>
<path class="b" d="M740.8,325.6 L748.2,328.1 L750.7,336.7 L745.8,345.4 L739.1,346.6 L737.1,335.5 L740.8,325.6" fill="none" stroke="rgb(0,0,204)" stroke-width="1.6"/>
<path class="b" d="M737.1,283.7 L756.9,283.7 L769.2,288.6 L756.9,296.0 L742.1,298.5 L737.1,293.6 Z" fill="rgb(76,0,0)" stroke="rgb(76,0,0)" stroke-width="9.0"/>
<path class="b" d="M737.1,283.7 L756.9,283.7 L769.2,288.6 L756.9,296.0 L742.1,298.5 L737.1,293.6 Z" fill="rgb(105,0,0)"/>
<path class="b" d="M749.5,287.4 L763.0,289.9" fill="none" stroke="rgb(76,0,0)" stroke-width="12.5"/>
<path class="b" d="M749.5,287.4 L763.0,289.9" fill="none" stroke="rgb(205,0,0)" stroke-width="3.1"/>
<path class="b" d="M769.2,291.1 L786.5,293.6" fill="none" stroke="rgb(77,0,0)" stroke-width="3.0"/>
<path class="b" d="M739.6,372.5 L745.8,384.9" fill="none" stroke="rgb(76,0,0)" stroke-width="14.4"/>
<path class="b" d="M739.6,372.5 L745.8,384.9" fill="none" stroke="rgb(140,0,0)" stroke-width="4.9"/>
</g></g>
<g fill="none" stroke="#000" stroke-width="3.8" stroke-linejoin="round" stroke-linecap="round">
<path d="M316.7,196.0 L933.5,195.9 L933.5,186.0 L942.6,186.0 L944.6,194.7 L946.3,201.6 L954.5,203.3 L963.1,207.0 L968.0,209.5 L977.9,205.8 L990.2,208.2 L996.4,215.6 L1003.8,213.2 L1010.0,218.1 L1017.4,220.6 L1029.7,216.9 L1037.1,220.6 L1049.5,220.6 L1060.6,223.0 L1049.5,228.5 L1037.1,235.4 L1024.8,244.0 L1012.5,252.7 L1003.8,258.8 L997.6,262.5 L1007.5,260.1 L1017.4,256.8 L1028.5,255.1 L1030.2,262.5 L1037.1,261.3 L1042.1,261.8 L1054.4,256.4 L1066.7,252.7 L1076.6,250.2 L1084.0,245.3 L1091.4,240.3 L1100.0,239.1 L1101.3,241.6 L1093.9,245.3 L1086.5,251.4 L1085.2,257.6 L1091.4,255.1 L1104.9,259.2 L1109.9,264.6 L1119.7,265.4 L1132.1,260.4 L1144.4,259.2 L1162.9,258.0 L1164.2,265.4 L1174.0,266.6 L1179.0,271.6 L1183.9,279.0 L1186.4,281.4 L1174.0,279.0 L1162.9,277.7 L1153.0,277.7 L1144.4,280.2 L1134.5,281.4 L1124.7,283.9 L1118.5,285.1 L1116.1,288.4 L1107.4,298.3 L1103.7,303.2 L1098.8,311.9 L1094.4,319.3 L1103.7,318.0 L1113.1,308.7 L1121.5,300.3 L1122.5,304.5 L1116.1,314.3 L1107.4,323.5 L1103.2,330.4 L1100.0,337.8 L1097.6,347.6 L1096.8,357.5 L1098.8,367.4 L1100.0,378.0 L1101.3,390.1 L1103.7,394.9 L1109.9,399.9 L1114.8,399.9 L1121.0,397.4 L1124.7,394.9 L1129.6,387.5 L1134.5,377.6 L1134.5,367.8 L1130.8,357.9 L1127.1,348.0 L1128.4,338.2 L1133.3,328.3 L1137.0,318.4 L1140.7,311.0 L1146.9,308.6 L1149.3,313.5 L1153.0,311.0 L1153.0,302.4 L1158.0,295.0 L1161.7,286.4 L1161.7,281.4 L1162.9,282.7 L1171.6,286.4 L1181.4,290.1 L1191.3,295.0 L1198.7,301.2 L1199.9,308.6 L1198.7,318.4 L1199.9,328.3 L1195.0,333.2 L1187.6,338.2 L1186.4,343.1 L1191.3,345.6 L1197.5,339.4 L1203.6,334.5 L1211.0,334.5 L1214.7,341.9 L1217.2,353.0 L1218.4,364.1 L1216.0,372.7 L1212.3,376.4 L1208.6,375.2 L1204.9,382.6 L1201.2,387.5 L1198.7,394.9 L1195.0,398.6 L1201.2,401.1 L1207.3,406.0 L1216.0,407.3 L1228.3,404.8 L1238.2,399.9 L1248.0,396.2 L1261.6,392.5 L1272.7,387.5 L1277.6,386.3 L1290.0,377.6 L1296.2,370.2 L1293.7,360.4 L1296.2,355.4 L1309.7,354.2 L1327.0,356.7 L1342.3,354.5 L1352.2,349.5 L1357.1,347.1 L1355.9,338.4 L1354.7,333.5 L1360.8,328.6 L1369.5,319.9 L1378.1,311.3 L1388.0,307.6 L1421.3,306.8 L1462.0,306.4 L1464.5,301.4 L1471.9,299.0 L1475.6,298.5 L1480.5,297.7 L1484.2,291.6 L1490.4,285.4 L1491.6,276.7 L1490.4,271.8 L1495.3,266.9 L1499.0,259.5 L1505.2,250.8 L1511.3,243.4 L1515.0,238.5 L1518.7,239.7 L1520.0,244.7 L1527.4,243.4 L1534.8,241.0 L1542.2,243.4 L1547.1,249.6 L1548.4,269.3 L1548.4,286.6 L1553.3,291.6 L1553.3,299.0 L1560.7,303.9 L1561.9,310.1 L1558.2,315.0 L1552.1,317.5 L1544.7,321.2 L1537.3,323.6 L1529.9,326.1 L1524.9,322.4 L1520.0,328.6 L1513.8,334.7 L1507.6,337.2 L1500.2,340.9 L1494.1,343.4 L1490.4,348.3 L1487.9,354.5 L1483.0,360.6 L1479.3,365.6 L1478.0,370.5 L1475.6,377.9 L1474.3,382.8 L1478.0,387.8 L1484.2,392.7 L1487.9,397.6 L1492.8,390.2 L1497.8,390.2 L1499.0,397.6 L1497.8,403.8 L1490.4,405.0 L1483.0,407.5 L1478.0,410.0 L1468.2,403.8 L1464.5,405.0 L1458.3,407.5 L1456.5,409.4 L1443.3,410.6 L1431.8,411.4 L1421.9,413.9 L1413.7,417.2 L1412.0,420.5 L1407.1,426.2 L1401.3,432.8 L1400.8,434.8 L1407.1,434.5 L1408.7,439.4 L1407.9,449.3 L1404.6,455.9 L1400.5,462.5 L1395.6,469.1 L1391.4,474.0 L1389.0,477.3 L1385.7,476.5 L1382.4,472.4 L1379.1,470.7 L1376.6,465.8 L1375.0,460.8 L1373.3,455.9 L1372.5,453.4 L1373.3,459.2 L1375.8,467.4 L1379.1,475.7 L1382.4,482.3 L1384.8,485.6 L1384.8,490.5 L1383.2,498.7 L1379.1,507.0 L1374.1,515.2 L1369.2,523.4 L1364.3,530.0 L1362.6,532.5 L1365.7,536.5 L1366.5,544.7 L1369.8,554.6 L1373.9,563.7 L1372.3,568.6 L1367.3,572.7 L1362.4,576.8 L1357.4,578.5 L1354.1,582.6 L1352.5,589.2 L1350.8,592.5 L1345.9,595.0 L1337.7,597.4 L1331.1,596.6 L1327.8,602.4 L1322.8,609.0 L1320.4,615.6 L1317.9,618.8 L1311.3,618.8 L1305.5,619.7 L1299.8,623.0 L1295.7,627.9 L1292.4,632.9 L1289.9,637.0 L1286.6,641.1 L1275.2,650.3 L1267.8,655.3 L1260.4,660.2 L1254.2,665.1 L1251.7,671.3 L1245.6,682.4 L1241.9,692.3 L1239.4,700.9 L1240.6,705.8 L1243.1,720.6 L1246.8,735.4 L1250.5,747.8 L1254.2,760.1 L1257.9,774.9 L1261.6,787.3 L1265.5,792.8 L1268.9,803.1 L1271.5,809.9 L1272.8,816.7 L1272.3,828.6 L1271.5,838.9 L1271.1,845.7 L1268.9,852.5 L1266.4,858.5 L1261.2,861.9 L1256.1,862.7 L1249.3,864.4 L1246.8,859.3 L1244.2,850.8 L1240.8,845.7 L1234.8,841.4 L1232.3,835.4 L1230.6,828.6 L1227.2,821.8 L1225.4,815.0 L1218.6,809.9 L1216.1,803.1 L1213.5,796.2 L1211.0,791.1 L1209.3,786.0 L1210.1,780.9 L1211.8,774.1 L1213.5,765.6 L1212.7,757.0 L1208.4,750.2 L1201.2,745.3 L1195.0,736.7 L1188.8,729.3 L1181.4,725.6 L1174.0,728.0 L1166.6,730.5 L1158.0,735.4 L1151.8,734.2 L1148.1,725.6 L1141.9,720.6 L1134.5,715.7 L1124.7,714.5 L1114.8,714.5 L1107.4,715.7 L1106.2,713.2 L1102.5,718.2 L1096.3,715.7 L1097.6,708.3 L1093.9,705.8 L1091.4,716.9 L1084.0,715.2 L1079.1,715.7 L1069.2,718.2 L1060.6,721.9 L1066.7,725.6 L1063.0,731.7 L1060.6,737.9 L1064.3,745.3 L1071.7,749.0 L1070.4,752.7 L1064.3,756.4 L1056.9,750.2 L1054.4,745.3 L1050.7,742.8 L1043.3,749.0 L1038.4,750.2 L1032.2,752.7 L1027.3,750.2 L1021.1,745.3 L1014.9,737.9 L1010.0,733.0 L1003.8,734.2 L1000.1,739.1 L990.2,737.9 L980.4,734.2 L973.0,733.0 L963.1,733.0 L953.2,736.7 L945.8,740.4 L940.9,742.8 L936.0,747.8 L937.3,746.8 L933.9,752.8 L928.7,757.0 L921.9,761.3 L915.1,764.7 L908.3,769.0 L901.5,773.2 L894.7,778.4 L889.5,784.3 L886.1,791.1 L883.6,799.7 L881.9,808.2 L882.7,815.0 L884.4,823.5 L887.0,832.0 L890.4,837.2 L889.5,840.6 L884.4,842.3 L879.3,840.6 L872.5,838.5 L865.7,838.0 L860.6,834.6 L853.7,831.2 L846.1,827.8 L844.4,821.8 L841.0,813.3 L837.6,806.5 L836.7,796.2 L831.6,791.1 L826.5,784.3 L821.4,777.5 L817.1,769.8 L812.8,760.5 L808.6,751.1 L802.6,744.3 L794.9,740.0 L797.8,739.1 L791.7,734.2 L783.0,734.2 L774.4,732.5 L768.2,734.2 L764.5,737.9 L760.8,747.8 L757.1,755.2 L752.2,756.4 L744.8,751.5 L734.9,746.5 L727.5,740.4 L722.6,733.0 L718.9,723.1 L715.2,713.2 L707.8,705.8 L700.4,700.9 L693.0,693.5 L685.6,686.1 L680.6,678.2 L642.4,678.2 L642.4,689.3 L623.4,689.3 L578.2,689.8 L540.0,675.0 L494.8,658.2 L494.1,655.0 L500.2,650.8 L442.3,656.2 L441.0,646.4 L437.3,639.0 L431.2,631.6 L423.8,625.4 L416.4,621.7 L412.7,615.5 L404.0,613.0 L395.4,609.3 L386.7,604.4 L375.6,603.2 L367.0,600.7 L364.5,592.1 L363.3,581.0 L361.2,581.1 L357.5,574.9 L351.3,567.5 L345.1,557.6 L339.0,550.2 L336.5,542.8 L339.0,536.7 L334.0,530.5 L327.9,523.1 L324.2,513.2 L321.7,504.6 L313.0,500.9 L310.6,492.3 L305.6,486.1 L299.5,478.7 L294.5,471.3 L292.1,459.0 L288.4,446.6 L283.4,439.2 L279.7,433.0 L283.4,421.9 L287.1,412.1 L285.9,399.7 L283.4,391.1 L282.2,384.8 L280.2,377.4 L277.8,367.5 L281.0,353.9 L284.7,340.4 L287.6,328.0 L290.1,313.2 L292.1,296.0 L291.6,283.6 L289.6,272.5 L290.8,270.1 L293.3,262.7 L290.8,256.5 L293.3,252.8 L285.9,250.3 L284.7,244.2 L281.7,236.7 L277.3,228.1 L272.8,219.5 L274.8,212.1 L284.7,214.5 L294.5,217.0 L313.0,218.7 L309.3,209.6 L313.0,203.4Z" stroke-width="4.3"/>
<path d="M1409.6,424.0 L1419.8,419.2 L1432.4,414.5 L1444.9,413.8 L1455.1,416.9"/>
<path d="M1399.4,434.2 L1409.6,433.4 L1425.3,431.0 L1437.1,427.1 L1448.1,422.4 L1456.3,417.7"/>
<path d="M1040.8,721.9 L1045.8,717.4 L1051.9,718.2 L1054.9,722.6 L1050.7,726.8 L1043.3,727.3Z"/>
<path d="M289.6,271.8 L297.0,273.3 L306.9,275.0 L313.0,279.9 L315.5,287.3 L324.6,291.0 L334.0,289.8 L346.4,288.6 L353.8,289.8 L363.6,287.8 L376.0,284.9 L388.3,281.7 L400.6,279.9 L420.4,279.2 L445.0,279.2"/>
<path d="M444.6,196.0 L444.6,273.8 L447.5,278.7 L457.4,284.9 L456.2,292.3 L451.2,300.9 L445.0,310.8 L441.3,318.2 L442.6,328.0 L447.5,330.5 L445.0,337.9 L444.6,391.0"/>
<path d="M466.8,196.0 L466.8,224.4 L473.4,233.0 L474.7,239.2 L482.1,244.2 L491.9,254.0 L496.9,259.0 L505.5,261.4 L504.3,276.2 L500.6,286.1 L503.0,293.5 L511.7,288.6 L516.6,291.0 L521.5,300.9 L526.5,308.3 L531.4,314.5 L537.6,324.3 L551.1,321.9 L560.0,320.6"/>
<path d="M560.0,320.6 L564.7,319.4 L570.8,314.5 L579.0,323.1"/>
<path d="M283.4,391.0 L579.0,391.1"/>
<path d="M379.2,391.1 L379.2,476.2 L498.1,584.8"/>
<path d="M511.7,391.1 L511.7,556.4 L506.7,558.9 L500.6,557.6 L496.9,560.1 L498.1,572.5 L498.1,584.8"/>
<path d="M499.0,583.4 L502.7,594.5 L507.6,604.4 L511.3,608.1 L505.2,616.7 L501.5,624.2 L497.8,631.6 L497.8,641.4 L501.5,646.4 L500.2,650.8 L494.1,655.0 L494.8,658.2"/>
<path d="M511.7,530.5 L947.1,531.0"/>
<path d="M579.0,307.8 L735.4,307.8"/>
<path d="M579.0,307.8 L579.0,419.5"/>
<path d="M579.0,419.5 L779.8,419.5"/>
<path d="M735.4,196.0 L735.4,419.5"/>
<path d="M623.4,419.5 L623.4,689.3"/>
<path d="M779.8,419.5 L779.8,531.0"/>
<path d="M735.4,281.2 L902.7,281.5"/>
<path d="M735.4,363.8 L859.5,363.7 L869.3,368.6 L879.2,367.4 L889.1,367.4 L896.5,371.1 L902.7,374.8"/>
<path d="M779.8,447.1 L928.6,446.6"/>
<path d="M889.1,195.9 L890.3,207.0 L892.8,219.3 L895.3,231.7 L897.7,244.0 L900.2,256.4 L902.7,268.7 L902.7,281.0 L899.0,289.7 L906.4,295.8 L906.4,348.9 L901.4,351.3 L903.9,360.0 L902.7,367.4 L905.1,374.8 L907.6,382.2 L910.1,390.1"/>
<path d="M905.1,380.0 L911.3,389.9 L915.0,402.2 L917.5,414.5 L919.9,426.9 L922.4,433.0 L927.3,441.7 L934.7,450.3 L939.7,452.8 L936.0,459.0 L940.9,466.4 L947.1,471.3 L947.1,530.5 L948.3,552.7 L949.5,577.4 L948.3,600.1"/>
<path d="M948.8,580.0 L948.8,625.6 L958.2,628.1 L959.4,671.3 L964.3,678.7 L968.0,688.6 L969.3,698.4 L966.8,708.3 L965.6,718.2 L964.3,728.0 L963.1,733.0"/>
<path d="M906.4,349.4 L1021.1,349.4"/>
<path d="M921.2,431.1 L1014.9,431.1 L1017.4,435.5"/>
<path d="M997.6,262.5 L997.6,278.6 L990.2,283.5 L985.3,289.7 L987.8,298.3 L987.8,313.1 L992.7,318.0 L1002.6,323.0 L1010.0,330.4 L1016.2,335.3 L1019.9,342.7 L1022.3,348.9 L1024.8,357.5 L1023.6,364.9 L1027.3,372.3 L1034.7,377.3 L1039.6,381.0 L1042.1,384.7 L1043.3,390.1"/>
<path d="M1038.4,380.0 L1045.8,386.2 L1045.8,397.3 L1040.8,404.7 L1027.3,409.6 L1024.8,417.0 L1028.5,423.2 L1021.1,430.6 L1017.4,435.5 L1016.2,444.2 L1019.9,454.0 L1026.0,461.4 L1031.0,467.6 L1034.7,475.0 L1037.1,478.7 L1044.5,478.7 L1045.8,486.1 L1040.8,494.7 L1047.0,502.1 L1054.4,507.1 L1060.6,514.5 L1063.0,523.1 L1065.5,528.0 L1069.2,531.7 L1069.2,537.9 L1061.8,542.8 L1058.1,550.2 L1056.9,557.6 L1053.2,565.0 L1049.5,574.9 L1045.8,579.9 L1043.3,587.3 L1039.6,594.7 L1037.1,600.1"/>
<path d="M1047.0,580.0 L1042.1,589.9 L1034.7,599.7 L1028.5,609.6 L1024.8,619.5 L1022.3,626.9 L1024.8,634.3 L1023.6,642.9 L1026.0,651.6 L1028.5,660.2 L1023.6,666.4 L1024.8,672.5 L1019.9,678.7 L1016.2,686.1 L1013.7,693.5 L1013.7,699.7 L1055.6,699.7 L1054.4,708.3 L1058.1,716.9 L1060.6,723.1"/>
<path d="M1039.6,378.0 L1100.0,378.0"/>
<path d="M1042.1,261.8 L1043.3,267.5 L1066.7,274.9 L1086.5,281.0 L1095.1,284.7 L1098.8,293.4 L1101.3,300.8 L1107.4,298.3"/>
<path d="M1103.7,394.8 L1103.7,471.3 L1105.0,481.2 L1101.3,491.0 L1096.3,498.4 L1092.6,505.8 L1091.4,510.8"/>
<path d="M1069.2,533.0 L1072.9,525.6 L1081.5,529.3 L1084.0,521.9 L1090.2,518.2 L1091.4,509.5 L1098.8,507.1 L1106.2,505.8 L1113.6,508.3 L1120.0,504.6"/>
<path d="M1100.0,507.1 L1107.4,505.8 L1114.8,509.5 L1122.2,503.4 L1129.6,500.9 L1137.0,497.2 L1144.4,491.0 L1151.8,483.6 L1160.4,481.2 L1166.1,477.5 L1170.3,473.8 L1174.0,476.2 L1181.4,482.4 L1191.3,484.9 L1201.2,486.1 L1208.6,483.6 L1212.3,488.6 L1216.0,493.5 L1220.9,488.6 L1225.8,481.2 L1233.2,475.0 L1240.6,466.4 L1248.0,461.4 L1254.2,455.3 L1257.9,444.2 L1257.9,433.0 L1260.9,429.3"/>
<path d="M1121.0,397.4 L1166.1,397.4 L1195.0,398.6"/>
<path d="M1166.1,397.4 L1166.1,475.0"/>
<path d="M1261.6,392.5 L1261.6,454.0"/>
<path d="M1261.6,454.0 L1370.2,454.0"/>
<path d="M1278.1,386.3 L1278.1,391.2 L1377.6,391.2"/>
<path d="M1379.1,390.0 L1384.8,397.4 L1385.7,403.2 L1389.8,408.1 L1388.1,413.1 L1382.4,420.5 L1380.7,429.5 L1384.0,434.5 L1390.6,439.4 L1392.3,442.7 L1385.7,446.8 L1379.1,450.1 L1372.5,452.6 L1370.0,455.1"/>
<path d="M1389.8,408.1 L1412.0,420.5"/>
<path d="M1369.2,454.6 L1369.2,489.7 L1384.8,489.7"/>
<path d="M1283.8,454.0 L1283.8,470.1 L1291.2,463.9 L1299.9,459.0 L1308.5,460.2 L1314.7,458.5 L1320.8,463.9 L1324.5,470.1 L1331.9,476.2 L1340.6,479.9 L1336.9,486.1 L1333.2,491.0 L1339.3,494.7 L1346.7,498.4 L1354.1,503.4 L1359.1,508.3 L1362.8,513.2 L1366.5,518.2"/>
<path d="M1216.0,493.5 L1214.7,500.9 L1218.4,508.3 L1223.4,514.5 L1228.3,519.4 L1234.5,525.6 L1243.1,524.3 L1253.0,520.6 L1262.8,516.9 L1269.0,513.2 L1272.7,503.4 L1277.6,496.0 L1281.3,488.6 L1287.5,489.8 L1294.9,481.2 L1302.3,473.8 L1309.7,463.9 L1314.7,459.0"/>
<path d="M1228.3,519.4 L1218.4,526.8 L1208.6,534.2 L1198.7,540.4"/>
<path d="M1063.0,542.8 L1091.4,543.3 L1091.4,540.4 L1120.0,541.6"/>
<path d="M1100.0,541.6 L1198.7,540.9 L1235.7,543.3 L1367.7,544.8"/>
<path d="M948.3,544.8 L1045.8,544.8 L1048.2,550.2 L1040.8,558.9 L1054.4,559.6"/>
<path d="M959.4,642.9 L1023.6,642.9"/>
<path d="M758.4,531.0 L758.4,546.5 L826.2,546.5"/>
<path d="M826.2,546.5 L826.2,599.7 L832.4,603.4 L840.0,603.4"/>
<path d="M826.2,575.1 L826.2,599.7 L834.8,604.7 L844.7,608.4 L854.5,612.1 L864.4,614.5 L873.0,619.5 L881.7,619.5 L889.1,623.2 L899.0,620.7 L907.6,624.4 L916.2,619.5 L926.1,618.2 L934.7,617.0 L940.9,620.7 L948.3,625.6"/>
<path d="M758.4,546.5 L758.4,672.5 L676.9,672.5 L680.6,678.2"/>
<path d="M1043.3,588.5 L1177.7,587.4"/>
<path d="M1091.4,587.4 L1085.2,678.7 L1084.0,715.2"/>
<path d="M1148.1,587.4 L1160.4,661.4 L1159.2,673.8 L1158.0,686.1 L1160.4,698.4 L1164.2,707.1 L1224.6,713.2 L1225.8,718.2 L1228.3,715.7 L1227.1,705.8 L1238.2,705.8 L1240.6,700.9"/>
<path d="M1160.4,699.7 L1102.5,699.7 L1104.9,708.3 L1102.5,718.2"/>
<path d="M1235.7,544.1 L1230.8,551.5 L1218.4,557.6 L1208.6,563.8 L1198.7,570.0 L1188.8,574.9 L1181.4,579.9 L1176.5,584.8 L1177.7,588.5"/>
<path d="M1177.7,587.4 L1198.7,587.9 L1206.1,584.9 L1216.0,582.5 L1233.2,581.2 L1248.0,583.7 L1255.4,591.1 L1267.8,592.3 L1280.1,593.6 L1292.5,604.7 L1304.8,618.2 L1307.3,619.5"/>
<path d="M1198.7,588.6 L1197.5,594.8 L1203.6,602.2 L1211.0,612.1 L1218.4,620.7 L1225.8,629.3 L1233.2,639.2 L1240.6,646.6 L1244.3,656.5 L1248.0,665.1 L1251.0,671.3"/>
<path d="M1421.3,306.8 L1420.8,318.7 L1421.8,331.0 L1423.3,343.4 L1425.0,358.2 L1425.0,370.5 L1422.5,380.4 L1420.1,390.2 L1418.3,402.6 L1416.4,414.9"/>
<path d="M1462.0,306.4 L1459.5,318.7 L1453.4,326.1 L1450.9,336.0 L1446.0,345.8 L1442.3,358.2 L1439.8,369.3"/>
<path d="M1475.6,298.5 L1476.1,318.7 L1476.8,338.4 L1478.0,358.2 L1479.3,365.6"/>
<path d="M1425.0,370.0 L1439.8,369.5 L1468.2,372.5 L1475.6,368.0 L1479.3,365.6"/>
<path d="M1420.1,390.2 L1464.5,390.2 L1465.7,402.6"/>
<path d="M1457.1,390.2 L1457.1,410.0"/>
<path d="M1378.1,390.2 L1383.0,397.6 L1388.0,405.0 L1391.7,407.5"/>
</g>
<g fill="none" stroke="#000" stroke-linejoin="round" stroke-linecap="round">
<path d="M325.4,500.9 L326.6,508.3 L330.3,515.7" stroke-width="6"/>
<path d="M313.0,500.9 L320.4,503.4" stroke-width="4"/>
<path d="M1114.8,285.1 L1109.9,293.8 L1102.5,303.6" stroke-width="4"/>
<path d="M1150.6,304.9 L1149.3,313.5" stroke-width="6"/>
<path d="M1362.6,460.0 L1357.7,467.4 L1356.0,479.0 L1359.3,488.8 L1364.3,497.1 L1367.5,503.7 L1365.9,511.9 L1363.4,521.8 L1362.6,530.9" stroke-width="5"/>
<path d="M1349.4,469.1 L1351.1,482.3 L1349.4,492.1 L1354.4,505.3 L1356.0,518.5 L1357.7,530.0" stroke-width="5"/>
<path d="M1335.4,477.3 L1341.2,479.8 L1338.7,485.6 L1333.8,488.8 L1332.9,493.0 L1339.5,495.4 L1346.1,498.7 L1349.4,502.0 L1344.5,505.3 L1341.2,511.9 L1345.3,518.5 L1342.8,525.1 L1347.8,530.0 L1351.1,537.0" stroke-width="5"/>
<path d="M1354.4,462.5 L1356.8,472.4 L1355.2,482.3 L1356.8,492.1 L1361.0,495.4 L1365.9,498.7" stroke-width="5"/>
<path d="M1341.2,503.7 L1349.4,508.6 L1356.0,511.9" stroke-width="5"/>
<path d="M1339.5,523.4 L1349.4,521.8 L1357.7,526.7" stroke-width="5"/>
<path d="M1437.1,420.8 L1446.5,417.7 L1455.1,416.9" stroke-width="7"/>
<path d="M1440.2,416.9 L1444.9,414.5" stroke-width="6"/>
<path d="M1464.7,402.4 L1471.3,399.9 L1477.9,396.6" stroke-width="4"/>
<path d="M1491.6,390.2 L1497.8,390.2 L1499.0,397.6 L1497.3,403.8 L1490.4,405.0 L1481.7,408.7" stroke-width="4"/>
<path d="M1492.8,410.0 L1497.8,411.2" stroke-width="6"/>
<path d="M1468.2,403.8 L1478.0,401.3 L1484.2,402.6" stroke-width="4"/>
<path d="M1345.9,550.5 L1347.5,561.2 L1354.1,557.9 L1360.7,554.6" stroke-width="5"/>
<path d="M1350.8,562.8 L1359.1,560.4 L1365.7,561.2 L1362.4,567.8" stroke-width="5"/>
<path d="M1339.3,574.4 L1345.9,576.0 L1352.5,572.7 L1350.0,582.6 L1340.1,584.3 L1343.4,589.2 L1350.8,590.8 L1355.0,587.2" stroke-width="7"/>
<path d="M1341.0,523.3 L1349.2,526.6 L1354.1,523.3 L1352.5,531.5 L1357.4,529.9" stroke-width="6"/>
<path d="M1331.1,595.8 L1334.4,595.0" stroke-width="5"/>
<path d="M1093.9,705.8 L1093.4,716.9" stroke-width="5"/>
<path d="M938.4,733.0 L940.9,742.8" stroke-width="5"/>
<path d="M875.9,799.7 L879.3,791.1 L882.7,786.0 L887.0,780.9 L892.9,774.9 L899.8,769.0 L904.9,763.9 L910.8,762.2" stroke-width="5"/>
<path d="M1210.1,783.5 L1218.6,785.2 L1216.9,791.1 L1211.8,789.4" stroke-width="8"/>
<path d="M1222.9,812.4 L1227.5,813.3 L1226.8,817.0" stroke-width="6"/>
<path d="M1247.6,858.5 L1252.7,860.2 L1250.2,864.1" stroke-width="7"/>
</g>
<g fill="#000" stroke="#000" stroke-width="1.5" stroke-linejoin="round">
<path d="M315.5,195.1 L320.0,198.1 L325.1,201.7 L326.8,208.2 L327.8,215.3 L331.8,222.5 L329.6,227.9 L327.8,233.4 L328.8,241.5 L325.6,245.8 L319.5,249.8 L314.5,252.4 L310.9,248.8 L309.4,242.7 L310.9,237.5 L314.5,232.4 L316.0,227.4 L316.5,223.9 L317.5,218.3 L316.5,214.3 L313.4,213.3 L308.4,211.4 L306.9,207.7 L309.4,204.7 L313.4,202.2 L317.5,204.2 L315.5,199.1Z"/>
</g>
<g font-family="'Liberation Sans', Arial, sans-serif" fill="#000">
<text x="921.4" y="56.7" text-anchor="middle" font-size="33.55" font-weight="bold">Asiatic rice borer: Adult relative pop. size 10/27/2026</text>
<text x="921.2" y="107.6" text-anchor="middle" font-size="26.2" letter-spacing="0.45">Maps and modeling 02/13/2026 by Oregon State University IPPC USPEST.ORG and</text>
<text x="921.6" y="139.3" text-anchor="middle" font-size="26.2" letter-spacing="0.45">USDA-APHIS-PPQ; climate data from OSU PRISM Climate Group</text>
<text x="1608.6" y="460" font-size="25.95" font-weight="bold">Relative pop. size</text>
</g>
<g shape-rendering="crispEdges">
<rect x="1609" y="473.2" width="25" height="25.6" fill="#1976D2"/>
<rect x="1609" y="498.6" width="25" height="25.6" fill="#4A8FA0"/>
<rect x="1609" y="524.0" width="25" height="25.6" fill="#7BAE76"/>
<rect x="1609" y="549.4" width="25" height="25.6" fill="#ADCE45"/>
<rect x="1609" y="574.8" width="25" height="25.6" fill="#E6EE1C"/>
<rect x="1609" y="600.2" width="25" height="25.6" fill="#FBE000"/>
</g>
<g font-family="'DejaVu Sans', 'Liberation Sans', sans-serif" font-size="19.3" letter-spacing="1.65" fill="#000">
<text x="1644.8" y="492.7">0-10</text>
<text x="1644.8" y="518.1">10-20</text>
<text x="1644.8" y="543.5">20-30</text>
<text x="1644.8" y="568.9">30-40</text>
<text x="1644.8" y="594.3">40-50</text>
<text x="1644.8" y="619.7">50-60</text>
</g>
</svg>
</body></html>
